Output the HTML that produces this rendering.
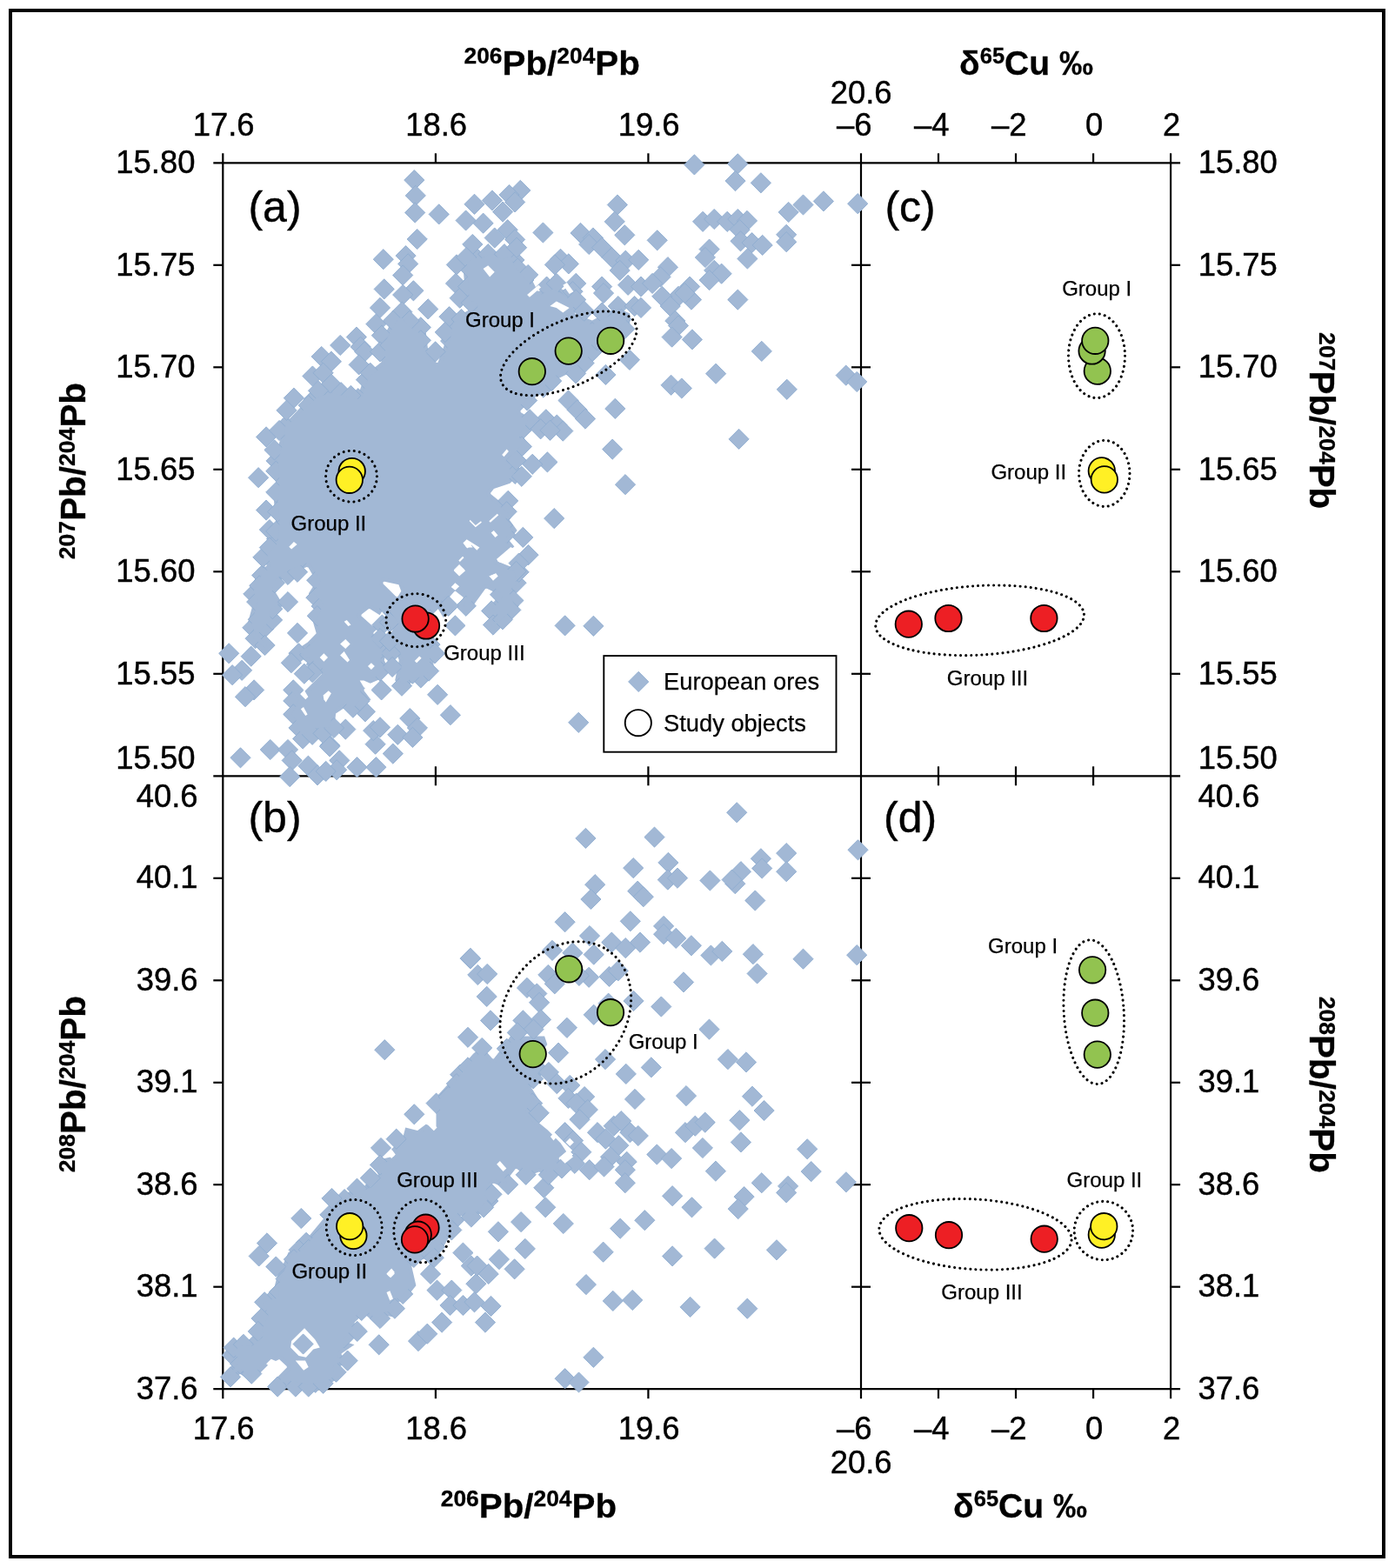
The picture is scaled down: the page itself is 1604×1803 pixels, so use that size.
<!DOCTYPE html>
<html lang="en">
<head>
<meta charset="utf-8">
<title>Pb and Cu isotope plots</title>
<style>
html,body{margin:0;padding:0;background:#fff;}
body{width:1604px;height:1803px;overflow:hidden;}
svg{display:block;font-family:"Liberation Sans",sans-serif;fill:#000;}
</style>
</head>
<body>
<svg width="1604" height="1803" viewBox="0 0 1604 1803">
<rect x="0" y="0" width="1604" height="1803" fill="#fff"/>
<rect x="12" y="12" width="1579" height="1778" fill="none" stroke="#000" stroke-width="4"/>
<g id="axes">
<line x1="245.3" y1="187.3" x2="1357.1" y2="187.3" stroke="#000" stroke-width="2.2"/>
<line x1="245.3" y1="892.3" x2="1357.1" y2="892.3" stroke="#000" stroke-width="2.2"/>
<line x1="245.3" y1="1597.2" x2="1357.1" y2="1597.2" stroke="#000" stroke-width="2.2"/>
<line x1="256.3" y1="176.3" x2="256.3" y2="1608.2" stroke="#000" stroke-width="2.2"/>
<line x1="990.0" y1="176.3" x2="990.0" y2="1608.2" stroke="#000" stroke-width="2.2"/>
<line x1="1346.1" y1="176.3" x2="1346.1" y2="1608.2" stroke="#000" stroke-width="2.2"/>
<line x1="500.9" y1="176.3" x2="500.9" y2="187.3" stroke="#000" stroke-width="2.2"/>
<line x1="500.9" y1="881.3" x2="500.9" y2="903.3" stroke="#000" stroke-width="2.2"/>
<line x1="500.9" y1="1597.2" x2="500.9" y2="1608.2" stroke="#000" stroke-width="2.2"/>
<line x1="745.4" y1="176.3" x2="745.4" y2="187.3" stroke="#000" stroke-width="2.2"/>
<line x1="745.4" y1="881.3" x2="745.4" y2="903.3" stroke="#000" stroke-width="2.2"/>
<line x1="745.4" y1="1597.2" x2="745.4" y2="1608.2" stroke="#000" stroke-width="2.2"/>
<line x1="1079.0" y1="176.3" x2="1079.0" y2="187.3" stroke="#000" stroke-width="2.2"/>
<line x1="1079.0" y1="881.3" x2="1079.0" y2="903.3" stroke="#000" stroke-width="2.2"/>
<line x1="1079.0" y1="1597.2" x2="1079.0" y2="1608.2" stroke="#000" stroke-width="2.2"/>
<line x1="1168.0" y1="176.3" x2="1168.0" y2="187.3" stroke="#000" stroke-width="2.2"/>
<line x1="1168.0" y1="881.3" x2="1168.0" y2="903.3" stroke="#000" stroke-width="2.2"/>
<line x1="1168.0" y1="1597.2" x2="1168.0" y2="1608.2" stroke="#000" stroke-width="2.2"/>
<line x1="1257.1" y1="176.3" x2="1257.1" y2="187.3" stroke="#000" stroke-width="2.2"/>
<line x1="1257.1" y1="881.3" x2="1257.1" y2="903.3" stroke="#000" stroke-width="2.2"/>
<line x1="1257.1" y1="1597.2" x2="1257.1" y2="1608.2" stroke="#000" stroke-width="2.2"/>
<line x1="245.3" y1="774.8" x2="256.3" y2="774.8" stroke="#000" stroke-width="2.2"/>
<line x1="979.0" y1="774.8" x2="1001.0" y2="774.8" stroke="#000" stroke-width="2.2"/>
<line x1="1346.1" y1="774.8" x2="1357.1" y2="774.8" stroke="#000" stroke-width="2.2"/>
<line x1="245.3" y1="1479.7" x2="256.3" y2="1479.7" stroke="#000" stroke-width="2.2"/>
<line x1="979.0" y1="1479.7" x2="1001.0" y2="1479.7" stroke="#000" stroke-width="2.2"/>
<line x1="1346.1" y1="1479.7" x2="1357.1" y2="1479.7" stroke="#000" stroke-width="2.2"/>
<line x1="245.3" y1="657.3" x2="256.3" y2="657.3" stroke="#000" stroke-width="2.2"/>
<line x1="979.0" y1="657.3" x2="1001.0" y2="657.3" stroke="#000" stroke-width="2.2"/>
<line x1="1346.1" y1="657.3" x2="1357.1" y2="657.3" stroke="#000" stroke-width="2.2"/>
<line x1="245.3" y1="1362.2" x2="256.3" y2="1362.2" stroke="#000" stroke-width="2.2"/>
<line x1="979.0" y1="1362.2" x2="1001.0" y2="1362.2" stroke="#000" stroke-width="2.2"/>
<line x1="1346.1" y1="1362.2" x2="1357.1" y2="1362.2" stroke="#000" stroke-width="2.2"/>
<line x1="245.3" y1="539.8" x2="256.3" y2="539.8" stroke="#000" stroke-width="2.2"/>
<line x1="979.0" y1="539.8" x2="1001.0" y2="539.8" stroke="#000" stroke-width="2.2"/>
<line x1="1346.1" y1="539.8" x2="1357.1" y2="539.8" stroke="#000" stroke-width="2.2"/>
<line x1="245.3" y1="1244.8" x2="256.3" y2="1244.8" stroke="#000" stroke-width="2.2"/>
<line x1="979.0" y1="1244.8" x2="1001.0" y2="1244.8" stroke="#000" stroke-width="2.2"/>
<line x1="1346.1" y1="1244.8" x2="1357.1" y2="1244.8" stroke="#000" stroke-width="2.2"/>
<line x1="245.3" y1="422.3" x2="256.3" y2="422.3" stroke="#000" stroke-width="2.2"/>
<line x1="979.0" y1="422.3" x2="1001.0" y2="422.3" stroke="#000" stroke-width="2.2"/>
<line x1="1346.1" y1="422.3" x2="1357.1" y2="422.3" stroke="#000" stroke-width="2.2"/>
<line x1="245.3" y1="1127.3" x2="256.3" y2="1127.3" stroke="#000" stroke-width="2.2"/>
<line x1="979.0" y1="1127.3" x2="1001.0" y2="1127.3" stroke="#000" stroke-width="2.2"/>
<line x1="1346.1" y1="1127.3" x2="1357.1" y2="1127.3" stroke="#000" stroke-width="2.2"/>
<line x1="245.3" y1="304.8" x2="256.3" y2="304.8" stroke="#000" stroke-width="2.2"/>
<line x1="979.0" y1="304.8" x2="1001.0" y2="304.8" stroke="#000" stroke-width="2.2"/>
<line x1="1346.1" y1="304.8" x2="1357.1" y2="304.8" stroke="#000" stroke-width="2.2"/>
<line x1="245.3" y1="1009.8" x2="256.3" y2="1009.8" stroke="#000" stroke-width="2.2"/>
<line x1="979.0" y1="1009.8" x2="1001.0" y2="1009.8" stroke="#000" stroke-width="2.2"/>
<line x1="1346.1" y1="1009.8" x2="1357.1" y2="1009.8" stroke="#000" stroke-width="2.2"/>
</g>
<g id="ores" fill="#a2b8d5">
<path fill-rule="evenodd" d="M352.6 651.9L354.4 652.4L363.7 668.5L354.8 682.5L366.8 694.9L359.1 712.5L363.7 728.2L353.8 738.4L336.8 749.8L347.4 757.8L356.9 762.6L369.4 773.6L369.9 775.0L350.3 794.8L348.8 794.5L337.4 784.5L328.4 793.5L338.8 805.7L329.7 821.4L338.7 833.4L338.3 835.0L335.0 837.3L348.4 850.7L361.8 841.8L384.2 840.3L386.1 820.4L396.4 813.7L407.1 819.5L419.0 806.2L426.6 804.8L418.6 794.2L418.6 792.6L425.3 785.9L436.2 781.2L447.6 771.2L441.8 759.3L444.7 747.1L432.7 735.1L429.3 728.2L429.7 726.9L437.7 720.1L428.5 719.9L415.4 708.2L415.7 706.6L423.7 700.2L425.2 700.1L436.6 707.2L439.9 702.1L441.8 701.8L454.0 718.1L454.0 719.2L448.0 731.1L458.8 759.0L454.2 782.2L462.3 795.6L473.7 784.3L487.9 782.6L498.5 774.0L498.5 696.8L499.2 695.5L500.3 695.3L501.2 695.9L509.7 710.1L516.8 704.2L511.1 694.3L511.1 693.0L522.3 680.2L523.8 679.7L532.6 686.8L532.5 688.1L526.9 696.6L535.8 705.5L545.6 694.3L558.1 677.1L559.9 676.7L569.5 681.5L572.7 686.2L572.2 687.4L559.8 699.9L568.1 708.2L568.5 709.4L558.3 718.7L567.1 727.4L592.3 703.6L596.5 696.6L590.5 680.9L600.8 671.6L597.7 667.4L595.8 656.9L596.4 655.9L603.7 651.5L586.9 651.5L572.6 645.8L571.8 644.4L572.3 643.2L591.4 628.6L586.0 621.9L585.8 620.7L594.7 610.1L585.8 597.7L591.4 590.1L564.5 568.3L564.0 567.1L567.9 562.1L586.5 555.8L597.6 544.7L586.2 533.3L585.8 531.8L597.1 521.8L605.8 510.2L601.4 500.6L613.2 482.8L598.9 474.2L598.4 472.4L611.9 458.8L623.9 451.9L639.0 436.8L650.6 431.0L661.3 431.0L668.6 421.3L679.6 414.7L685.5 394.0L713.8 380.7L724.3 371.9L724.3 360.5L709.0 353.7L680.9 368.5L661.5 360.9L660.8 359.0L666.0 348.7L650.1 334.6L636.0 327.5L619.7 334.8L618.1 334.4L612.3 323.0L595.5 304.2L589.4 287.0L578.2 293.7L564.9 286.4L549.7 293.7L548.5 292.5L548.5 287.8L532.1 300.4L535.7 350.6L543.8 350.6L544.8 351.3L545.0 352.5L544.3 353.4L531.3 360.9L516.9 368.0L513.3 389.9L503.5 416.8L502.2 417.1L501.3 416.5L491.8 399.4L489.9 382.9L473.5 371.9L461.3 358.0L451.3 367.9L438.5 391.7L438.4 416.4L419.6 431.5L411.9 454.2L410.5 454.5L381.0 447.1L363.0 452.5L348.3 465.4L333.2 481.2L324.3 481.5L322.5 504.6L315.1 528.8L317.0 554.8L315.1 577.3L317.0 599.7L315.1 622.4L302.2 637.4L306.7 650.6L305.6 651.5L300.8 651.5L288.8 674.0L286.0 681.0L292.0 690.5L284.3 718.4L288.9 728.1L284.8 733.9L304.5 750.8L313.3 742.0L301.8 730.4L301.6 728.9L316.9 713.5L314.0 704.9L314.3 703.7L325.9 696.3L317.1 681.5L320.4 669.6L330.3 661.1ZM457.7 685.8L456.6 686.5L455.4 686.1L440.5 671.2L440.6 669.2L442.0 668.8L458.4 672.3L461.3 679.8Z"/>
<path fill-rule="evenodd" d="M472.4 1452.3L472.7 1451.1L473.5 1450.5L492.5 1446.7L510.7 1432.1L521.7 1413.9L524.0 1404.9L529.0 1398.3L530.3 1398.0L544.5 1401.6L553.2 1394.6L567.1 1379.0L562.1 1373.4L566.4 1360.9L567.9 1360.7L582.2 1366.0L591.0 1361.7L584.9 1355.5L584.5 1354.5L592.8 1343.9L594.4 1344.0L605.0 1352.9L619.8 1347.5L631.0 1352.9L649.4 1344.6L642.5 1332.0L643.1 1331.0L651.4 1324.4L644.7 1314.4L629.9 1299.6L618.6 1290.2L608.9 1278.2L609.2 1276.9L619.7 1264.7L610.9 1250.6L610.8 1249.3L618.6 1241.4L628.9 1227.5L618.2 1216.4L629.3 1201.0L626.1 1191.5L586.8 1191.5L579.8 1202.1L567.7 1217.6L566.2 1217.2L554.1 1203.3L544.1 1211.7L531.1 1226.5L517.9 1243.4L501.5 1261.6L501.5 1294.5L501.0 1295.6L499.7 1296.0L489.7 1292.7L480.1 1300.0L466.2 1296.6L462.6 1310.5L450.1 1321.3L453.4 1327.9L453.1 1329.4L435.9 1333.5L429.5 1339.9L434.7 1350.3L434.4 1351.9L424.6 1361.5L400.5 1370.8L382.0 1389.3L344.6 1434.2L331.6 1439.9L326.2 1452.5L318.7 1467.3L315.1 1481.8L316.3 1488.8L315.2 1489.5L304.9 1491.2L296.8 1497.7L303.9 1512.1L296.5 1527.4L298.1 1535.4L288.1 1543.5L278.3 1541.9L259.8 1553.6L269.8 1563.5L270.2 1564.8L258.7 1580.5L256.0 1583.2L264.9 1590.6L275.1 1580.4L276.4 1579.9L289.1 1588.8L308.9 1569.0L321.1 1563.1L329.6 1571.0L330.0 1572.2L312.2 1590.6L319.5 1595.7L332.3 1592.1L352.9 1595.8L371.2 1594.0L380.2 1590.4L392.0 1582.8L387.0 1574.6L387.3 1573.0L400.8 1566.0L392.9 1558.1L392.5 1556.8L393.2 1555.9L407.5 1546.3L399.0 1543.5L398.1 1542.1L398.6 1541.1L412.5 1527.2L407.7 1522.4L407.8 1520.6L418.1 1510.7L419.3 1511.1L433.2 1523.3L443.8 1512.8L451.5 1514.3L459.2 1506.6L452.7 1500.1L452.7 1498.2L462.5 1495.9L471.4 1486.9L478.4 1478.2Z"/>
<g stroke="#8fadd0" stroke-width="0.9">
<path d="M494.5 729.5l11.6 11.6-11.6 11.6-11.6-11.6z"/><path d="M498.4 681.8l11.6 11.6-11.6 11.6-11.6-11.6z"/><path d="M575.1 672.2l11.6 11.6-11.6 11.6-11.6-11.6z"/><path d="M565.1 690.8l11.6 11.6-11.6 11.6-11.6-11.6z"/><path d="M592.2 533.3l11.6 11.6-11.6 11.6-11.6-11.6z"/><path d="M600.5 482.4l11.6 11.6-11.6 11.6-11.6-11.6z"/>
<path d="M662.9 409.7l11.6 11.6-11.6 11.6-11.6-11.6z"/><path d="M692.6 373.6l11.6 11.6-11.6 11.6-11.6-11.6z"/><path d="M705.0 367.4l11.6 11.6-11.6 11.6-11.6-11.6z"/><path d="M591.4 287.3l11.6 11.6-11.6 11.6-11.6-11.6z"/><path d="M548.1 285.2l11.6 11.6-11.6 11.6-11.6-11.6z"/><path d="M519.8 368.5l11.6 11.6-11.6 11.6-11.6-11.6z"/>
<path d="M518.1 380.5l11.6 11.6-11.6 11.6-11.6-11.6z"/><path d="M421.0 425.1l11.6 11.6-11.6 11.6-11.6-11.6z"/><path d="M411.8 446.6l11.6 11.6-11.6 11.6-11.6-11.6z"/><path d="M360.7 447.6l11.6 11.6-11.6 11.6-11.6-11.6z"/><path d="M328.1 478.5l11.6 11.6-11.6 11.6-11.6-11.6z"/><path d="M317.6 518.3l11.6 11.6-11.6 11.6-11.6-11.6z"/>
<path d="M318.0 608.0l11.6 11.6-11.6 11.6-11.6-11.6z"/><path d="M301.2 649.9l11.6 11.6-11.6 11.6-11.6-11.6z"/><path d="M291.3 671.4l11.6 11.6-11.6 11.6-11.6-11.6z"/><path d="M290.4 710.1l11.6 11.6-11.6 11.6-11.6-11.6z"/><path d="M303.3 711.3l11.6 11.6-11.6 11.6-11.6-11.6z"/><path d="M313.1 701.3l11.6 11.6-11.6 11.6-11.6-11.6z"/>
<path d="M313.3 688.6l11.6 11.6-11.6 11.6-11.6-11.6z"/><path d="M315.8 658.7l11.6 11.6-11.6 11.6-11.6-11.6z"/><path d="M364.2 655.6l11.6 11.6-11.6 11.6-11.6-11.6z"/><path d="M363.4 675.6l11.6 11.6-11.6 11.6-11.6-11.6z"/><path d="M369.6 685.5l11.6 11.6-11.6 11.6-11.6-11.6z"/><path d="M364.8 696.6l11.6 11.6-11.6 11.6-11.6-11.6z"/>
<path d="M362.7 1578.2l11.6 11.6-11.6 11.6-11.6-11.6z"/><path d="M395.6 1526.7l11.6 11.6-11.6 11.6-11.6-11.6z"/><path d="M415.7 1495.4l11.6 11.6-11.6 11.6-11.6-11.6z"/><path d="M475.8 1434.3l11.6 11.6-11.6 11.6-11.6-11.6z"/><path d="M500.2 1422.2l11.6 11.6-11.6 11.6-11.6-11.6z"/><path d="M522.2 1391.4l11.6 11.6-11.6 11.6-11.6-11.6z"/>
<path d="M561.3 1369.4l11.6 11.6-11.6 11.6-11.6-11.6z"/><path d="M613.2 1228.8l11.6 11.6-11.6 11.6-11.6-11.6z"/><path d="M582.8 1194.2l11.6 11.6-11.6 11.6-11.6-11.6z"/><path d="M529.2 1224.1l11.6 11.6-11.6 11.6-11.6-11.6z"/><path d="M432.0 1351.0l11.6 11.6-11.6 11.6-11.6-11.6z"/><path d="M396.1 1367.5l11.6 11.6-11.6 11.6-11.6-11.6z"/>
<path d="M379.4 1385.2l11.6 11.6-11.6 11.6-11.6-11.6z"/><path d="M352.1 1417.2l11.6 11.6-11.6 11.6-11.6-11.6z"/><path d="M343.7 1425.7l11.6 11.6-11.6 11.6-11.6-11.6z"/><path d="M315.4 1480.4l11.6 11.6-11.6 11.6-11.6-11.6z"/><path d="M298.0 1529.4l11.6 11.6-11.6 11.6-11.6-11.6z"/><path d="M267.0 1546.6l11.6 11.6-11.6 11.6-11.6-11.6z"/>
<path d="M476.3 195.5l11.6 11.6-11.6 11.6-11.6-11.6z"/><path d="M477.8 213.3l11.6 11.6-11.6 11.6-11.6-11.6z"/><path d="M477.2 232.9l11.6 11.6-11.6 11.6-11.6-11.6z"/><path d="M504.7 234.8l11.6 11.6-11.6 11.6-11.6-11.6z"/><path d="M545.5 223.2l11.6 11.6-11.6 11.6-11.6-11.6z"/><path d="M535.6 241.9l11.6 11.6-11.6 11.6-11.6-11.6z"/>
<path d="M479.7 263.4l11.6 11.6-11.6 11.6-11.6-11.6z"/><path d="M543.3 269.4l11.6 11.6-11.6 11.6-11.6-11.6z"/><path d="M440.8 286.6l11.6 11.6-11.6 11.6-11.6-11.6z"/><path d="M466.6 282.5l11.6 11.6-11.6 11.6-11.6-11.6z"/><path d="M469.2 291.8l11.6 11.6-11.6 11.6-11.6-11.6z"/><path d="M463.2 304.9l11.6 11.6-11.6 11.6-11.6-11.6z"/>
<path d="M441.7 320.8l11.6 11.6-11.6 11.6-11.6-11.6z"/><path d="M475.4 322.7l11.6 11.6-11.6 11.6-11.6-11.6z"/><path d="M463.2 327.4l11.6 11.6-11.6 11.6-11.6-11.6z"/><path d="M437.0 342.3l11.6 11.6-11.6 11.6-11.6-11.6z"/><path d="M492.2 343.8l11.6 11.6-11.6 11.6-11.6-11.6z"/><path d="M462.3 347.0l11.6 11.6-11.6 11.6-11.6-11.6z"/>
<path d="M524.9 292.8l11.6 11.6-11.6 11.6-11.6-11.6z"/><path d="M524.0 314.3l11.6 11.6-11.6 11.6-11.6-11.6z"/><path d="M528.7 331.1l11.6 11.6-11.6 11.6-11.6-11.6z"/><path d="M516.5 352.6l11.6 11.6-11.6 11.6-11.6-11.6z"/><path d="M483.8 364.8l11.6 11.6-11.6 11.6-11.6-11.6z"/><path d="M432.4 361.0l11.6 11.6-11.6 11.6-11.6-11.6z"/>
<path d="M409.9 376.0l11.6 11.6-11.6 11.6-11.6-11.6z"/><path d="M414.6 387.2l11.6 11.6-11.6 11.6-11.6-11.6z"/><path d="M419.3 392.8l11.6 11.6-11.6 11.6-11.6-11.6z"/><path d="M391.2 385.4l11.6 11.6-11.6 11.6-11.6-11.6z"/><path d="M369.7 398.4l11.6 11.6-11.6 11.6-11.6-11.6z"/><path d="M380.9 404.1l11.6 11.6-11.6 11.6-11.6-11.6z"/>
<path d="M412.7 407.8l11.6 11.6-11.6 11.6-11.6-11.6z"/><path d="M359.4 420.9l11.6 11.6-11.6 11.6-11.6-11.6z"/><path d="M371.6 417.2l11.6 11.6-11.6 11.6-11.6-11.6z"/><path d="M337.9 446.1l11.6 11.6-11.6 11.6-11.6-11.6z"/><path d="M329.5 460.2l11.6 11.6-11.6 11.6-11.6-11.6z"/><path d="M536.2 284.4l11.6 11.6-11.6 11.6-11.6-11.6z"/>
<path d="M541.8 299.3l11.6 11.6-11.6 11.6-11.6-11.6z"/><path d="M538.0 318.0l11.6 11.6-11.6 11.6-11.6-11.6z"/><path d="M541.8 336.7l11.6 11.6-11.6 11.6-11.6-11.6z"/><path d="M530.5 355.4l11.6 11.6-11.6 11.6-11.6-11.6z"/><path d="M538.0 366.7l11.6 11.6-11.6 11.6-11.6-11.6z"/><path d="M470.7 357.3l11.6 11.6-11.6 11.6-11.6-11.6z"/>
<path d="M452.0 357.3l11.6 11.6-11.6 11.6-11.6-11.6z"/><path d="M438.9 374.1l11.6 11.6-11.6 11.6-11.6-11.6z"/><path d="M483.8 379.7l11.6 11.6-11.6 11.6-11.6-11.6z"/><path d="M500.6 392.8l11.6 11.6-11.6 11.6-11.6-11.6z"/><path d="M511.8 370.4l11.6 11.6-11.6 11.6-11.6-11.6z"/><path d="M437.0 392.8l11.6 11.6-11.6 11.6-11.6-11.6z"/>
<path d="M448.3 385.4l11.6 11.6-11.6 11.6-11.6-11.6z"/><path d="M380.9 430.2l11.6 11.6-11.6 11.6-11.6-11.6z"/><path d="M366.0 437.7l11.6 11.6-11.6 11.6-11.6-11.6z"/><path d="M354.7 454.6l11.6 11.6-11.6 11.6-11.6-11.6z"/><path d="M392.1 439.6l11.6 11.6-11.6 11.6-11.6-11.6z"/><path d="M403.4 443.3l11.6 11.6-11.6 11.6-11.6-11.6z"/>
<path d="M425.8 417.2l11.6 11.6-11.6 11.6-11.6-11.6z"/><path d="M798.4 177.8l11.6 11.6-11.6 11.6-11.6-11.6z"/><path d="M848.3 176.8l11.6 11.6-11.6 11.6-11.6-11.6z"/><path d="M845.5 196.5l11.6 11.6-11.6 11.6-11.6-11.6z"/><path d="M598.3 207.3l11.6 11.6-11.6 11.6-11.6-11.6z"/><path d="M585.5 212.4l11.6 11.6-11.6 11.6-11.6-11.6z"/>
<path d="M565.9 218.9l11.6 11.6-11.6 11.6-11.6-11.6z"/><path d="M592.1 220.8l11.6 11.6-11.6 11.6-11.6-11.6z"/><path d="M578.1 232.0l11.6 11.6-11.6 11.6-11.6-11.6z"/><path d="M709.9 223.9l11.6 11.6-11.6 11.6-11.6-11.6z"/><path d="M706.7 243.2l11.6 11.6-11.6 11.6-11.6-11.6z"/><path d="M718.3 258.7l11.6 11.6-11.6 11.6-11.6-11.6z"/>
<path d="M555.6 245.1l11.6 11.6-11.6 11.6-11.6-11.6z"/><path d="M583.7 252.6l11.6 11.6-11.6 11.6-11.6-11.6z"/><path d="M592.1 263.8l11.6 11.6-11.6 11.6-11.6-11.6z"/><path d="M624.4 255.9l11.6 11.6-11.6 11.6-11.6-11.6z"/><path d="M808.1 243.2l11.6 11.6-11.6 11.6-11.6-11.6z"/><path d="M821.2 240.4l11.6 11.6-11.6 11.6-11.6-11.6z"/>
<path d="M836.2 243.2l11.6 11.6-11.6 11.6-11.6-11.6z"/><path d="M848.3 240.4l11.6 11.6-11.6 11.6-11.6-11.6z"/><path d="M667.5 256.3l11.6 11.6-11.6 11.6-11.6-11.6z"/><path d="M681.9 261.9l11.6 11.6-11.6 11.6-11.6-11.6z"/><path d="M677.2 269.4l11.6 11.6-11.6 11.6-11.6-11.6z"/><path d="M692.1 273.1l11.6 11.6-11.6 11.6-11.6-11.6z"/>
<path d="M755.7 264.7l11.6 11.6-11.6 11.6-11.6-11.6z"/><path d="M815.6 275.0l11.6 11.6-11.6 11.6-11.6-11.6z"/><path d="M810.9 284.4l11.6 11.6-11.6 11.6-11.6-11.6z"/><path d="M821.2 299.3l11.6 11.6-11.6 11.6-11.6-11.6z"/><path d="M829.6 303.1l11.6 11.6-11.6 11.6-11.6-11.6z"/><path d="M815.6 310.5l11.6 11.6-11.6 11.6-11.6-11.6z"/>
<path d="M644.5 286.2l11.6 11.6-11.6 11.6-11.6-11.6z"/><path d="M653.8 291.8l11.6 11.6-11.6 11.6-11.6-11.6z"/><path d="M637.9 292.8l11.6 11.6-11.6 11.6-11.6-11.6z"/><path d="M703.4 284.4l11.6 11.6-11.6 11.6-11.6-11.6z"/><path d="M719.3 288.1l11.6 11.6-11.6 11.6-11.6-11.6z"/><path d="M734.2 287.2l11.6 11.6-11.6 11.6-11.6-11.6z"/>
<path d="M712.7 299.3l11.6 11.6-11.6 11.6-11.6-11.6z"/><path d="M767.9 295.6l11.6 11.6-11.6 11.6-11.6-11.6z"/><path d="M759.5 306.8l11.6 11.6-11.6 11.6-11.6-11.6z"/><path d="M793.1 318.0l11.6 11.6-11.6 11.6-11.6-11.6z"/><path d="M780.0 329.2l11.6 11.6-11.6 11.6-11.6-11.6z"/><path d="M795.0 333.0l11.6 11.6-11.6 11.6-11.6-11.6z"/>
<path d="M787.5 325.5l11.6 11.6-11.6 11.6-11.6-11.6z"/><path d="M848.3 333.0l11.6 11.6-11.6 11.6-11.6-11.6z"/><path d="M662.2 314.3l11.6 11.6-11.6 11.6-11.6-11.6z"/><path d="M658.5 323.6l11.6 11.6-11.6 11.6-11.6-11.6z"/><path d="M692.1 318.0l11.6 11.6-11.6 11.6-11.6-11.6z"/><path d="M694.0 325.5l11.6 11.6-11.6 11.6-11.6-11.6z"/>
<path d="M722.1 316.2l11.6 11.6-11.6 11.6-11.6-11.6z"/><path d="M737.0 318.0l11.6 11.6-11.6 11.6-11.6-11.6z"/><path d="M750.1 314.3l11.6 11.6-11.6 11.6-11.6-11.6z"/><path d="M761.3 329.2l11.6 11.6-11.6 11.6-11.6-11.6z"/><path d="M770.7 340.5l11.6 11.6-11.6 11.6-11.6-11.6z"/><path d="M643.5 334.9l11.6 11.6-11.6 11.6-11.6-11.6z"/>
<path d="M662.2 333.0l11.6 11.6-11.6 11.6-11.6-11.6z"/><path d="M710.8 340.5l11.6 11.6-11.6 11.6-11.6-11.6z"/><path d="M729.6 340.5l11.6 11.6-11.6 11.6-11.6-11.6z"/><path d="M737.0 342.3l11.6 11.6-11.6 11.6-11.6-11.6z"/><path d="M776.3 357.3l11.6 11.6-11.6 11.6-11.6-11.6z"/><path d="M780.0 362.9l11.6 11.6-11.6 11.6-11.6-11.6z"/>
<path d="M772.6 376.0l11.6 11.6-11.6 11.6-11.6-11.6z"/><path d="M795.9 378.8l11.6 11.6-11.6 11.6-11.6-11.6z"/><path d="M723.9 402.2l11.6 11.6-11.6 11.6-11.6-11.6z"/><path d="M823.1 418.1l11.6 11.6-11.6 11.6-11.6-11.6z"/><path d="M771.6 431.2l11.6 11.6-11.6 11.6-11.6-11.6z"/><path d="M783.8 434.9l11.6 11.6-11.6 11.6-11.6-11.6z"/>
<path d="M568.7 261.9l11.6 11.6-11.6 11.6-11.6-11.6z"/><path d="M561.2 280.6l11.6 11.6-11.6 11.6-11.6-11.6z"/><path d="M579.9 280.6l11.6 11.6-11.6 11.6-11.6-11.6z"/><path d="M587.4 299.3l11.6 11.6-11.6 11.6-11.6-11.6z"/><path d="M602.4 310.5l11.6 11.6-11.6 11.6-11.6-11.6z"/><path d="M628.6 318.0l11.6 11.6-11.6 11.6-11.6-11.6z"/>
<path d="M639.8 314.3l11.6 11.6-11.6 11.6-11.6-11.6z"/><path d="M624.8 336.7l11.6 11.6-11.6 11.6-11.6-11.6z"/><path d="M671.6 346.1l11.6 11.6-11.6 11.6-11.6-11.6z"/><path d="M692.1 348.0l11.6 11.6-11.6 11.6-11.6-11.6z"/><path d="M714.6 355.4l11.6 11.6-11.6 11.6-11.6-11.6z"/><path d="M718.3 366.7l11.6 11.6-11.6 11.6-11.6-11.6z"/>
<path d="M680.9 370.4l11.6 11.6-11.6 11.6-11.6-11.6z"/><path d="M662.2 383.5l11.6 11.6-11.6 11.6-11.6-11.6z"/><path d="M680.9 392.8l11.6 11.6-11.6 11.6-11.6-11.6z"/><path d="M671.6 405.9l11.6 11.6-11.6 11.6-11.6-11.6z"/><path d="M594.1 273.1l11.6 11.6-11.6 11.6-11.6-11.6z"/><path d="M595.3 296.9l11.6 11.6-11.6 11.6-11.6-11.6z"/>
<path d="M607.2 304.4l11.6 11.6-11.6 11.6-11.6-11.6z"/><path d="M637.9 383.5l11.6 11.6-11.6 11.6-11.6-11.6z"/><path d="M628.6 381.6l11.6 11.6-11.6 11.6-11.6-11.6z"/><path d="M624.8 434.0l11.6 11.6-11.6 11.6-11.6-11.6z"/><path d="M606.1 448.9l11.6 11.6-11.6 11.6-11.6-11.6z"/><path d="M634.2 426.5l11.6 11.6-11.6 11.6-11.6-11.6z"/>
<path d="M686.5 379.7l11.6 11.6-11.6 11.6-11.6-11.6z"/><path d="M874.9 198.7l11.6 11.6-11.6 11.6-11.6-11.6z"/><path d="M923.5 223.9l11.6 11.6-11.6 11.6-11.6-11.6z"/><path d="M946.9 219.8l11.6 11.6-11.6 11.6-11.6-11.6z"/><path d="M906.7 232.4l11.6 11.6-11.6 11.6-11.6-11.6z"/><path d="M986.2 222.6l11.6 11.6-11.6 11.6-11.6-11.6z"/>
<path d="M859.0 242.3l11.6 11.6-11.6 11.6-11.6-11.6z"/><path d="M850.6 252.6l11.6 11.6-11.6 11.6-11.6-11.6z"/><path d="M851.5 265.7l11.6 11.6-11.6 11.6-11.6-11.6z"/><path d="M864.6 267.5l11.6 11.6-11.6 11.6-11.6-11.6z"/><path d="M876.7 270.3l11.6 11.6-11.6 11.6-11.6-11.6z"/><path d="M904.2 258.2l11.6 11.6-11.6 11.6-11.6-11.6z"/>
<path d="M904.2 266.6l11.6 11.6-11.6 11.6-11.6-11.6z"/><path d="M859.4 285.9l11.6 11.6-11.6 11.6-11.6-11.6z"/><path d="M875.8 392.3l11.6 11.6-11.6 11.6-11.6-11.6z"/><path d="M904.8 436.2l11.6 11.6-11.6 11.6-11.6-11.6z"/><path d="M972.7 420.0l11.6 11.6-11.6 11.6-11.6-11.6z"/><path d="M985.2 427.4l11.6 11.6-11.6 11.6-11.6-11.6z"/>
<path d="M306.1 490.8l11.6 11.6-11.6 11.6-11.6-11.6z"/><path d="M297.1 537.6l11.6 11.6-11.6 11.6-11.6-11.6z"/><path d="M306.1 575.0l11.6 11.6-11.6 11.6-11.6-11.6z"/><path d="M309.9 597.5l11.6 11.6-11.6 11.6-11.6-11.6z"/><path d="M302.4 629.2l11.6 11.6-11.6 11.6-11.6-11.6z"/><path d="M321.1 483.4l11.6 11.6-11.6 11.6-11.6-11.6z"/>
<path d="M315.5 505.8l11.6 11.6-11.6 11.6-11.6-11.6z"/><path d="M317.3 530.1l11.6 11.6-11.6 11.6-11.6-11.6z"/><path d="M317.3 554.4l11.6 11.6-11.6 11.6-11.6-11.6z"/><path d="M319.2 576.9l11.6 11.6-11.6 11.6-11.6-11.6z"/><path d="M317.3 599.3l11.6 11.6-11.6 11.6-11.6-11.6z"/><path d="M309.9 618.0l11.6 11.6-11.6 11.6-11.6-11.6z"/>
<path d="M324.8 636.7l11.6 11.6-11.6 11.6-11.6-11.6z"/><path d="M343.5 633.0l11.6 11.6-11.6 11.6-11.6-11.6z"/><path d="M541.8 625.5l11.6 11.6-11.6 11.6-11.6-11.6z"/><path d="M263.2 739.7l11.6 11.6-11.6 11.6-11.6-11.6z"/><path d="M288.7 743.1l11.6 11.6-11.6 11.6-11.6-11.6z"/><path d="M278.1 759.2l11.6 11.6-11.6 11.6-11.6-11.6z"/>
<path d="M267.1 764.6l11.6 11.6-11.6 11.6-11.6-11.6z"/><path d="M292.1 781.8l11.6 11.6-11.6 11.6-11.6-11.6z"/><path d="M282.0 789.6l11.6 11.6-11.6 11.6-11.6-11.6z"/><path d="M276.5 859.7l11.6 11.6-11.6 11.6-11.6-11.6z"/><path d="M298.3 661.8l11.6 11.6-11.6 11.6-11.6-11.6z"/><path d="M295.2 680.5l11.6 11.6-11.6 11.6-11.6-11.6z"/>
<path d="M296.8 700.7l11.6 11.6-11.6 11.6-11.6-11.6z"/><path d="M293.6 722.6l11.6 11.6-11.6 11.6-11.6-11.6z"/><path d="M304.6 730.4l11.6 11.6-11.6 11.6-11.6-11.6z"/><path d="M331.0 649.3l11.6 11.6-11.6 11.6-11.6-11.6z"/><path d="M342.0 646.2l11.6 11.6-11.6 11.6-11.6-11.6z"/><path d="M331.0 680.5l11.6 11.6-11.6 11.6-11.6-11.6z"/>
<path d="M342.0 716.3l11.6 11.6-11.6 11.6-11.6-11.6z"/><path d="M343.5 739.7l11.6 11.6-11.6 11.6-11.6-11.6z"/><path d="M334.9 750.6l11.6 11.6-11.6 11.6-11.6-11.6z"/><path d="M363.8 752.2l11.6 11.6-11.6 11.6-11.6-11.6z"/><path d="M310.8 850.4l11.6 11.6-11.6 11.6-11.6-11.6z"/><path d="M331.0 850.4l11.6 11.6-11.6 11.6-11.6-11.6z"/>
<path d="M335.7 862.8l11.6 11.6-11.6 11.6-11.6-11.6z"/><path d="M333.2 881.5l11.6 11.6-11.6 11.6-11.6-11.6z"/><path d="M354.4 869.1l11.6 11.6-11.6 11.6-11.6-11.6z"/><path d="M365.0 879.7l11.6 11.6-11.6 11.6-11.6-11.6z"/><path d="M379.4 845.7l11.6 11.6-11.6 11.6-11.6-11.6z"/><path d="M390.3 862.8l11.6 11.6-11.6 11.6-11.6-11.6z"/>
<path d="M387.2 873.7l11.6 11.6-11.6 11.6-11.6-11.6z"/><path d="M410.5 870.6l11.6 11.6-11.6 11.6-11.6-11.6z"/><path d="M432.4 870.6l11.6 11.6-11.6 11.6-11.6-11.6z"/><path d="M451.8 855.0l11.6 11.6-11.6 11.6-11.6-11.6z"/><path d="M431.6 844.1l11.6 11.6-11.6 11.6-11.6-11.6z"/><path d="M429.2 828.5l11.6 11.6-11.6 11.6-11.6-11.6z"/>
<path d="M437.0 824.7l11.6 11.6-11.6 11.6-11.6-11.6z"/><path d="M457.3 833.2l11.6 11.6-11.6 11.6-11.6-11.6z"/><path d="M471.3 814.5l11.6 11.6-11.6 11.6-11.6-11.6z"/><path d="M479.9 825.4l11.6 11.6-11.6 11.6-11.6-11.6z"/><path d="M474.4 836.3l11.6 11.6-11.6 11.6-11.6-11.6z"/><path d="M397.3 827.0l11.6 11.6-11.6 11.6-11.6-11.6z"/>
<path d="M419.9 806.7l11.6 11.6-11.6 11.6-11.6-11.6z"/><path d="M438.6 781.8l11.6 11.6-11.6 11.6-11.6-11.6z"/><path d="M462.0 777.1l11.6 11.6-11.6 11.6-11.6-11.6z"/><path d="M439.4 707.0l11.6 11.6-11.6 11.6-11.6-11.6z"/><path d="M452.6 693.0l11.6 11.6-11.6 11.6-11.6-11.6z"/><path d="M337.3 781.8l11.6 11.6-11.6 11.6-11.6-11.6z"/>
<path d="M337.3 794.3l11.6 11.6-11.6 11.6-11.6-11.6z"/><path d="M337.3 809.8l11.6 11.6-11.6 11.6-11.6-11.6z"/><path d="M343.5 825.4l11.6 11.6-11.6 11.6-11.6-11.6z"/><path d="M348.2 837.9l11.6 11.6-11.6 11.6-11.6-11.6z"/><path d="M359.1 833.2l11.6 11.6-11.6 11.6-11.6-11.6z"/><path d="M371.6 831.7l11.6 11.6-11.6 11.6-11.6-11.6z"/>
<path d="M384.0 825.4l11.6 11.6-11.6 11.6-11.6-11.6z"/><path d="M405.9 802.1l11.6 11.6-11.6 11.6-11.6-11.6z"/><path d="M413.7 794.3l11.6 11.6-11.6 11.6-11.6-11.6z"/><path d="M437.0 760.0l11.6 11.6-11.6 11.6-11.6-11.6z"/><path d="M437.0 735.0l11.6 11.6-11.6 11.6-11.6-11.6z"/><path d="M437.0 722.6l11.6 11.6-11.6 11.6-11.6-11.6z"/>
<path d="M483.8 767.8l11.6 11.6-11.6 11.6-11.6-11.6z"/><path d="M474.4 763.1l11.6 11.6-11.6 11.6-11.6-11.6z"/><path d="M493.1 760.0l11.6 11.6-11.6 11.6-11.6-11.6z"/><path d="M356.0 741.3l11.6 11.6-11.6 11.6-11.6-11.6z"/><path d="M359.1 761.5l11.6 11.6-11.6 11.6-11.6-11.6z"/><path d="M349.8 763.1l11.6 11.6-11.6 11.6-11.6-11.6z"/>
<path d="M449.5 739.7l11.6 11.6-11.6 11.6-11.6-11.6z"/><path d="M451.1 755.3l11.6 11.6-11.6 11.6-11.6-11.6z"/><path d="M447.9 725.7l11.6 11.6-11.6 11.6-11.6-11.6z"/><path d="M379.1 846.9l11.6 11.6-11.6 11.6-11.6-11.6z"/><path d="M374.7 875.3l11.6 11.6-11.6 11.6-11.6-11.6z"/><path d="M444.8 685.2l11.6 11.6-11.6 11.6-11.6-11.6z"/>
<path d="M447.9 703.9l11.6 11.6-11.6 11.6-11.6-11.6z"/><path d="M523.4 707.8l11.6 11.6-11.6 11.6-11.6-11.6z"/><path d="M649.6 707.8l11.6 11.6-11.6 11.6-11.6-11.6z"/><path d="M682.4 708.2l11.6 11.6-11.6 11.6-11.6-11.6z"/><path d="M665.2 819.2l11.6 11.6-11.6 11.6-11.6-11.6z"/><path d="M517.9 810.6l11.6 11.6-11.6 11.6-11.6-11.6z"/>
<path d="M503.1 787.2l11.6 11.6-11.6 11.6-11.6-11.6z"/><path d="M500.0 739.7l11.6 11.6-11.6 11.6-11.6-11.6z"/><path d="M567.0 707.0l11.6 11.6-11.6 11.6-11.6-11.6z"/><path d="M535.8 685.2l11.6 11.6-11.6 11.6-11.6-11.6z"/><path d="M515.6 685.2l11.6 11.6-11.6 11.6-11.6-11.6z"/><path d="M593.5 658.7l11.6 11.6-11.6 11.6-11.6-11.6z"/>
<path d="M590.4 678.9l11.6 11.6-11.6 11.6-11.6-11.6z"/><path d="M587.3 689.8l11.6 11.6-11.6 11.6-11.6-11.6z"/><path d="M577.9 700.7l11.6 11.6-11.6 11.6-11.6-11.6z"/><path d="M596.6 646.2l11.6 11.6-11.6 11.6-11.6-11.6z"/><path d="M696.4 419.3l11.6 11.6-11.6 11.6-11.6-11.6z"/><path d="M653.5 448.9l11.6 11.6-11.6 11.6-11.6-11.6z"/>
<path d="M663.7 459.8l11.6 11.6-11.6 11.6-11.6-11.6z"/><path d="M673.0 470.0l11.6 11.6-11.6 11.6-11.6-11.6z"/><path d="M707.3 458.3l11.6 11.6-11.6 11.6-11.6-11.6z"/><path d="M627.8 470.7l11.6 11.6-11.6 11.6-11.6-11.6z"/><path d="M640.3 477.0l11.6 11.6-11.6 11.6-11.6-11.6z"/><path d="M621.6 481.7l11.6 11.6-11.6 11.6-11.6-11.6z"/>
<path d="M647.3 484.0l11.6 11.6-11.6 11.6-11.6-11.6z"/><path d="M632.5 483.2l11.6 11.6-11.6 11.6-11.6-11.6z"/><path d="M704.2 505.0l11.6 11.6-11.6 11.6-11.6-11.6z"/><path d="M629.4 519.8l11.6 11.6-11.6 11.6-11.6-11.6z"/><path d="M612.2 522.2l11.6 11.6-11.6 11.6-11.6-11.6z"/><path d="M599.8 536.2l11.6 11.6-11.6 11.6-11.6-11.6z"/>
<path d="M719.0 545.6l11.6 11.6-11.6 11.6-11.6-11.6z"/><path d="M637.2 584.5l11.6 11.6-11.6 11.6-11.6-11.6z"/><path d="M601.3 606.3l11.6 11.6-11.6 11.6-11.6-11.6z"/><path d="M607.5 626.6l11.6 11.6-11.6 11.6-11.6-11.6z"/><path d="M596.6 636.0l11.6 11.6-11.6 11.6-11.6-11.6z"/><path d="M584.2 564.3l11.6 11.6-11.6 11.6-11.6-11.6z"/>
<path d="M582.6 576.7l11.6 11.6-11.6 11.6-11.6-11.6z"/><path d="M577.9 592.3l11.6 11.6-11.6 11.6-11.6-11.6z"/><path d="M662.1 417.8l11.6 11.6-11.6 11.6-11.6-11.6z"/><path d="M609.1 470.7l11.6 11.6-11.6 11.6-11.6-11.6z"/><path d="M599.8 501.9l11.6 11.6-11.6 11.6-11.6-11.6z"/><path d="M593.5 517.5l11.6 11.6-11.6 11.6-11.6-11.6z"/>
<path d="M581.0 603.2l11.6 11.6-11.6 11.6-11.6-11.6z"/><path d="M587.3 651.5l11.6 11.6-11.6 11.6-11.6-11.6z"/><path d="M593.5 645.3l11.6 11.6-11.6 11.6-11.6-11.6z"/><path d="M849.6 493.3l11.6 11.6-11.6 11.6-11.6-11.6z"/><path d="M540.8 1090.7l11.6 11.6-11.6 11.6-11.6-11.6z"/><path d="M549.3 1109.4l11.6 11.6-11.6 11.6-11.6-11.6z"/>
<path d="M673.4 952.3l11.6 11.6-11.6 11.6-11.6-11.6z"/><path d="M752.5 951.0l11.6 11.6-11.6 11.6-11.6-11.6z"/><path d="M728.2 986.5l11.6 11.6-11.6 11.6-11.6-11.6z"/><path d="M768.4 980.3l11.6 11.6-11.6 11.6-11.6-11.6z"/><path d="M767.8 1000.0l11.6 11.6-11.6 11.6-11.6-11.6z"/><path d="M779.0 998.1l11.6 11.6-11.6 11.6-11.6-11.6z"/>
<path d="M816.4 1000.9l11.6 11.6-11.6 11.6-11.6-11.6z"/><path d="M684.2 1005.6l11.6 11.6-11.6 11.6-11.6-11.6z"/><path d="M679.4 1022.4l11.6 11.6-11.6 11.6-11.6-11.6z"/><path d="M733.2 1013.1l11.6 11.6-11.6 11.6-11.6-11.6z"/><path d="M739.8 1019.6l11.6 11.6-11.6 11.6-11.6-11.6z"/><path d="M649.6 1048.6l11.6 11.6-11.6 11.6-11.6-11.6z"/>
<path d="M724.8 1047.7l11.6 11.6-11.6 11.6-11.6-11.6z"/><path d="M763.1 1053.3l11.6 11.6-11.6 11.6-11.6-11.6z"/><path d="M763.1 1062.6l11.6 11.6-11.6 11.6-11.6-11.6z"/><path d="M777.2 1067.3l11.6 11.6-11.6 11.6-11.6-11.6z"/><path d="M678.0 1064.5l11.6 11.6-11.6 11.6-11.6-11.6z"/><path d="M703.3 1072.0l11.6 11.6-11.6 11.6-11.6-11.6z"/>
<path d="M719.2 1078.5l11.6 11.6-11.6 11.6-11.6-11.6z"/><path d="M736.0 1072.0l11.6 11.6-11.6 11.6-11.6-11.6z"/><path d="M794.9 1075.7l11.6 11.6-11.6 11.6-11.6-11.6z"/><path d="M817.4 1086.9l11.6 11.6-11.6 11.6-11.6-11.6z"/><path d="M540.9 1090.3l11.6 11.6-11.6 11.6-11.6-11.6z"/><path d="M635.0 1081.3l11.6 11.6-11.6 11.6-11.6-11.6z"/>
<path d="M658.4 1084.1l11.6 11.6-11.6 11.6-11.6-11.6z"/><path d="M682.7 1086.0l11.6 11.6-11.6 11.6-11.6-11.6z"/><path d="M560.2 1108.4l11.6 11.6-11.6 11.6-11.6-11.6z"/><path d="M630.3 1109.4l11.6 11.6-11.6 11.6-11.6-11.6z"/><path d="M677.1 1112.2l11.6 11.6-11.6 11.6-11.6-11.6z"/><path d="M700.5 1111.3l11.6 11.6-11.6 11.6-11.6-11.6z"/>
<path d="M710.8 1104.7l11.6 11.6-11.6 11.6-11.6-11.6z"/><path d="M786.0 1117.8l11.6 11.6-11.6 11.6-11.6-11.6z"/><path d="M665.9 1110.3l11.6 11.6-11.6 11.6-11.6-11.6z"/><path d="M637.8 1119.7l11.6 11.6-11.6 11.6-11.6-11.6z"/><path d="M606.0 1124.3l11.6 11.6-11.6 11.6-11.6-11.6z"/><path d="M617.3 1130.9l11.6 11.6-11.6 11.6-11.6-11.6z"/>
<path d="M620.1 1141.2l11.6 11.6-11.6 11.6-11.6-11.6z"/><path d="M559.7 1134.3l11.6 11.6-11.6 11.6-11.6-11.6z"/><path d="M728.5 1139.3l11.6 11.6-11.6 11.6-11.6-11.6z"/><path d="M760.3 1145.9l11.6 11.6-11.6 11.6-11.6-11.6z"/><path d="M699.6 1142.1l11.6 11.6-11.6 11.6-11.6-11.6z"/><path d="M564.0 1161.8l11.6 11.6-11.6 11.6-11.6-11.6z"/>
<path d="M601.4 1161.8l11.6 11.6-11.6 11.6-11.6-11.6z"/><path d="M621.9 1160.8l11.6 11.6-11.6 11.6-11.6-11.6z"/><path d="M682.7 1155.2l11.6 11.6-11.6 11.6-11.6-11.6z"/><path d="M651.9 1170.2l11.6 11.6-11.6 11.6-11.6-11.6z"/><path d="M815.5 1172.0l11.6 11.6-11.6 11.6-11.6-11.6z"/><path d="M613.5 1172.0l11.6 11.6-11.6 11.6-11.6-11.6z"/>
<path d="M594.8 1175.8l11.6 11.6-11.6 11.6-11.6-11.6z"/><path d="M847.2 922.7l11.6 11.6-11.6 11.6-11.6-11.6z"/><path d="M874.9 975.7l11.6 11.6-11.6 11.6-11.6-11.6z"/><path d="M876.2 986.9l11.6 11.6-11.6 11.6-11.6-11.6z"/><path d="M904.2 969.5l11.6 11.6-11.6 11.6-11.6-11.6z"/><path d="M904.2 990.6l11.6 11.6-11.6 11.6-11.6-11.6z"/>
<path d="M986.5 965.7l11.6 11.6-11.6 11.6-11.6-11.6z"/><path d="M851.9 990.6l11.6 11.6-11.6 11.6-11.6-11.6z"/><path d="M845.3 1004.6l11.6 11.6-11.6 11.6-11.6-11.6z"/><path d="M841.6 1000.0l11.6 11.6-11.6 11.6-11.6-11.6z"/><path d="M868.3 1023.9l11.6 11.6-11.6 11.6-11.6-11.6z"/><path d="M830.3 1082.3l11.6 11.6-11.6 11.6-11.6-11.6z"/>
<path d="M865.9 1085.6l11.6 11.6-11.6 11.6-11.6-11.6z"/><path d="M923.5 1091.1l11.6 11.6-11.6 11.6-11.6-11.6z"/><path d="M985.2 1086.6l11.6 11.6-11.6 11.6-11.6-11.6z"/><path d="M870.6 1107.9l11.6 11.6-11.6 11.6-11.6-11.6z"/><path d="M442.3 1195.6l11.6 11.6-11.6 11.6-11.6-11.6z"/><path d="M538.0 1181.2l11.6 11.6-11.6 11.6-11.6-11.6z"/>
<path d="M346.3 1389.4l11.6 11.6-11.6 11.6-11.6-11.6z"/><path d="M307.0 1417.8l11.6 11.6-11.6 11.6-11.6-11.6z"/><path d="M297.7 1432.8l11.6 11.6-11.6 11.6-11.6-11.6z"/><path d="M317.3 1444.9l11.6 11.6-11.6 11.6-11.6-11.6z"/><path d="M381.5 1366.4l11.6 11.6-11.6 11.6-11.6-11.6z"/><path d="M410.5 1355.1l11.6 11.6-11.6 11.6-11.6-11.6z"/>
<path d="M438.0 1308.4l11.6 11.6-11.6 11.6-11.6-11.6z"/><path d="M476.3 1269.7l11.6 11.6-11.6 11.6-11.6-11.6z"/><path d="M501.6 1257.0l11.6 11.6-11.6 11.6-11.6-11.6z"/><path d="M524.9 1234.5l11.6 11.6-11.6 11.6-11.6-11.6z"/><path d="M538.0 1215.8l11.6 11.6-11.6 11.6-11.6-11.6z"/><path d="M337.9 1436.5l11.6 11.6-11.6 11.6-11.6-11.6z"/>
<path d="M541.8 1387.9l11.6 11.6-11.6 11.6-11.6-11.6z"/><path d="M532.4 1429.0l11.6 11.6-11.6 11.6-11.6-11.6z"/><path d="M498.8 1434.6l11.6 11.6-11.6 11.6-11.6-11.6z"/><path d="M495.0 1453.3l11.6 11.6-11.6 11.6-11.6-11.6z"/><path d="M502.5 1472.0l11.6 11.6-11.6 11.6-11.6-11.6z"/><path d="M519.3 1472.0l11.6 11.6-11.6 11.6-11.6-11.6z"/>
<path d="M541.8 1444.0l11.6 11.6-11.6 11.6-11.6-11.6z"/><path d="M547.4 1464.6l11.6 11.6-11.6 11.6-11.6-11.6z"/><path d="M519.3 1402.8l11.6 11.6-11.6 11.6-11.6-11.6z"/><path d="M437.0 1328.0l11.6 11.6-11.6 11.6-11.6-11.6z"/><path d="M425.8 1343.0l11.6 11.6-11.6 11.6-11.6-11.6z"/><path d="M369.7 1410.3l11.6 11.6-11.6 11.6-11.6-11.6z"/>
<path d="M354.7 1425.3l11.6 11.6-11.6 11.6-11.6-11.6z"/><path d="M455.7 1298.1l11.6 11.6-11.6 11.6-11.6-11.6z"/><path d="M515.6 1249.5l11.6 11.6-11.6 11.6-11.6-11.6z"/><path d="M328.6 1458.9l11.6 11.6-11.6 11.6-11.6-11.6z"/><path d="M321.1 1473.9l11.6 11.6-11.6 11.6-11.6-11.6z"/><path d="M642.1 1199.0l11.6 11.6-11.6 11.6-11.6-11.6z"/>
<path d="M696.0 1206.5l11.6 11.6-11.6 11.6-11.6-11.6z"/><path d="M719.8 1223.3l11.6 11.6-11.6 11.6-11.6-11.6z"/><path d="M748.8 1215.8l11.6 11.6-11.6 11.6-11.6-11.6z"/><path d="M630.9 1221.4l11.6 11.6-11.6 11.6-11.6-11.6z"/><path d="M640.3 1234.5l11.6 11.6-11.6 11.6-11.6-11.6z"/><path d="M655.2 1236.4l11.6 11.6-11.6 11.6-11.6-11.6z"/>
<path d="M653.4 1251.3l11.6 11.6-11.6 11.6-11.6-11.6z"/><path d="M672.1 1249.5l11.6 11.6-11.6 11.6-11.6-11.6z"/><path d="M662.7 1257.0l11.6 11.6-11.6 11.6-11.6-11.6z"/><path d="M675.8 1264.4l11.6 11.6-11.6 11.6-11.6-11.6z"/><path d="M666.5 1275.7l11.6 11.6-11.6 11.6-11.6-11.6z"/><path d="M730.0 1252.3l11.6 11.6-11.6 11.6-11.6-11.6z"/>
<path d="M789.0 1248.5l11.6 11.6-11.6 11.6-11.6-11.6z"/><path d="M649.6 1290.6l11.6 11.6-11.6 11.6-11.6-11.6z"/><path d="M659.0 1300.0l11.6 11.6-11.6 11.6-11.6-11.6z"/><path d="M668.3 1313.1l11.6 11.6-11.6 11.6-11.6-11.6z"/><path d="M660.8 1326.2l11.6 11.6-11.6 11.6-11.6-11.6z"/><path d="M677.7 1333.6l11.6 11.6-11.6 11.6-11.6-11.6z"/>
<path d="M687.0 1290.6l11.6 11.6-11.6 11.6-11.6-11.6z"/><path d="M696.4 1298.1l11.6 11.6-11.6 11.6-11.6-11.6z"/><path d="M705.7 1283.1l11.6 11.6-11.6 11.6-11.6-11.6z"/><path d="M714.2 1277.5l11.6 11.6-11.6 11.6-11.6-11.6z"/><path d="M724.4 1290.6l11.6 11.6-11.6 11.6-11.6-11.6z"/><path d="M733.8 1294.4l11.6 11.6-11.6 11.6-11.6-11.6z"/>
<path d="M711.3 1305.6l11.6 11.6-11.6 11.6-11.6-11.6z"/><path d="M702.0 1318.7l11.6 11.6-11.6 11.6-11.6-11.6z"/><path d="M694.5 1329.9l11.6 11.6-11.6 11.6-11.6-11.6z"/><path d="M720.7 1324.3l11.6 11.6-11.6 11.6-11.6-11.6z"/><path d="M718.8 1333.6l11.6 11.6-11.6 11.6-11.6-11.6z"/><path d="M718.8 1348.6l11.6 11.6-11.6 11.6-11.6-11.6z"/>
<path d="M755.3 1315.9l11.6 11.6-11.6 11.6-11.6-11.6z"/><path d="M772.1 1320.5l11.6 11.6-11.6 11.6-11.6-11.6z"/><path d="M788.0 1290.6l11.6 11.6-11.6 11.6-11.6-11.6z"/><path d="M799.3 1283.1l11.6 11.6-11.6 11.6-11.6-11.6z"/><path d="M773.1 1363.6l11.6 11.6-11.6 11.6-11.6-11.6z"/><path d="M795.5 1376.7l11.6 11.6-11.6 11.6-11.6-11.6z"/>
<path d="M625.3 1354.2l11.6 11.6-11.6 11.6-11.6-11.6z"/><path d="M627.2 1376.7l11.6 11.6-11.6 11.6-11.6-11.6z"/><path d="M599.1 1393.5l11.6 11.6-11.6 11.6-11.6-11.6z"/><path d="M647.8 1395.4l11.6 11.6-11.6 11.6-11.6-11.6z"/><path d="M572.9 1404.7l11.6 11.6-11.6 11.6-11.6-11.6z"/><path d="M713.2 1401.0l11.6 11.6-11.6 11.6-11.6-11.6z"/>
<path d="M741.3 1391.6l11.6 11.6-11.6 11.6-11.6-11.6z"/><path d="M603.8 1424.3l11.6 11.6-11.6 11.6-11.6-11.6z"/><path d="M693.6 1428.1l11.6 11.6-11.6 11.6-11.6-11.6z"/><path d="M773.1 1432.8l11.6 11.6-11.6 11.6-11.6-11.6z"/><path d="M573.9 1436.5l11.6 11.6-11.6 11.6-11.6-11.6z"/><path d="M591.6 1447.7l11.6 11.6-11.6 11.6-11.6-11.6z"/>
<path d="M548.6 1444.0l11.6 11.6-11.6 11.6-11.6-11.6z"/><path d="M561.7 1453.3l11.6 11.6-11.6 11.6-11.6-11.6z"/><path d="M673.9 1465.5l11.6 11.6-11.6 11.6-11.6-11.6z"/><path d="M554.2 1193.4l11.6 11.6-11.6 11.6-11.6-11.6z"/><path d="M612.2 1257.0l11.6 11.6-11.6 11.6-11.6-11.6z"/><path d="M619.7 1268.2l11.6 11.6-11.6 11.6-11.6-11.6z"/>
<path d="M556.1 1376.7l11.6 11.6-11.6 11.6-11.6-11.6z"/><path d="M565.5 1361.7l11.6 11.6-11.6 11.6-11.6-11.6z"/><path d="M584.2 1350.5l11.6 11.6-11.6 11.6-11.6-11.6z"/><path d="M604.7 1339.2l11.6 11.6-11.6 11.6-11.6-11.6z"/><path d="M630.9 1339.2l11.6 11.6-11.6 11.6-11.6-11.6z"/><path d="M645.9 1331.8l11.6 11.6-11.6 11.6-11.6-11.6z"/>
<path d="M836.9 1206.5l11.6 11.6-11.6 11.6-11.6-11.6z"/><path d="M858.0 1209.8l11.6 11.6-11.6 11.6-11.6-11.6z"/><path d="M865.0 1249.1l11.6 11.6-11.6 11.6-11.6-11.6z"/><path d="M878.6 1265.4l11.6 11.6-11.6 11.6-11.6-11.6z"/><path d="M850.4 1276.6l11.6 11.6-11.6 11.6-11.6-11.6z"/><path d="M810.7 1279.0l11.6 11.6-11.6 11.6-11.6-11.6z"/>
<path d="M807.9 1308.4l11.6 11.6-11.6 11.6-11.6-11.6z"/><path d="M851.9 1301.8l11.6 11.6-11.6 11.6-11.6-11.6z"/><path d="M928.2 1309.7l11.6 11.6-11.6 11.6-11.6-11.6z"/><path d="M822.9 1335.1l11.6 11.6-11.6 11.6-11.6-11.6z"/><path d="M932.7 1335.5l11.6 11.6-11.6 11.6-11.6-11.6z"/><path d="M875.8 1348.6l11.6 11.6-11.6 11.6-11.6-11.6z"/>
<path d="M906.1 1352.3l11.6 11.6-11.6 11.6-11.6-11.6z"/><path d="M904.2 1359.8l11.6 11.6-11.6 11.6-11.6-11.6z"/><path d="M972.9 1347.7l11.6 11.6-11.6 11.6-11.6-11.6z"/><path d="M855.6 1364.5l11.6 11.6-11.6 11.6-11.6-11.6z"/><path d="M848.7 1378.5l11.6 11.6-11.6 11.6-11.6-11.6z"/><path d="M821.6 1424.0l11.6 11.6-11.6 11.6-11.6-11.6z"/>
<path d="M893.0 1425.7l11.6 11.6-11.6 11.6-11.6-11.6z"/><path d="M348.6 1533.9l11.6 11.6-11.6 11.6-11.6-11.6z"/><path d="M435.7 1534.7l11.6 11.6-11.6 11.6-11.6-11.6z"/><path d="M481.0 1530.5l11.6 11.6-11.6 11.6-11.6-11.6z"/><path d="M491.3 1522.1l11.6 11.6-11.6 11.6-11.6-11.6z"/><path d="M508.1 1509.0l11.6 11.6-11.6 11.6-11.6-11.6z"/>
<path d="M517.5 1489.4l11.6 11.6-11.6 11.6-11.6-11.6z"/><path d="M532.4 1489.4l11.6 11.6-11.6 11.6-11.6-11.6z"/><path d="M545.5 1485.7l11.6 11.6-11.6 11.6-11.6-11.6z"/><path d="M268.7 1538.0l11.6 11.6-11.6 11.6-11.6-11.6z"/><path d="M265.0 1571.7l11.6 11.6-11.6 11.6-11.6-11.6z"/><path d="M289.3 1568.0l11.6 11.6-11.6 11.6-11.6-11.6z"/>
<path d="M319.2 1582.9l11.6 11.6-11.6 11.6-11.6-11.6z"/><path d="M339.8 1582.9l11.6 11.6-11.6 11.6-11.6-11.6z"/><path d="M354.7 1582.9l11.6 11.6-11.6 11.6-11.6-11.6z"/><path d="M371.6 1579.2l11.6 11.6-11.6 11.6-11.6-11.6z"/><path d="M279.9 1534.3l11.6 11.6-11.6 11.6-11.6-11.6z"/><path d="M453.9 1493.1l11.6 11.6-11.6 11.6-11.6-11.6z"/>
<path d="M437.0 1504.4l11.6 11.6-11.6 11.6-11.6-11.6z"/><path d="M386.5 1566.1l11.6 11.6-11.6 11.6-11.6-11.6z"/><path d="M399.6 1553.0l11.6 11.6-11.6 11.6-11.6-11.6z"/><path d="M410.8 1519.3l11.6 11.6-11.6 11.6-11.6-11.6z"/><path d="M304.2 1485.7l11.6 11.6-11.6 11.6-11.6-11.6z"/><path d="M300.5 1504.4l11.6 11.6-11.6 11.6-11.6-11.6z"/>
<path d="M296.8 1519.3l11.6 11.6-11.6 11.6-11.6-11.6z"/><path d="M276.2 1556.7l11.6 11.6-11.6 11.6-11.6-11.6z"/><path d="M463.2 1476.3l11.6 11.6-11.6 11.6-11.6-11.6z"/><path d="M704.8 1484.3l11.6 11.6-11.6 11.6-11.6-11.6z"/><path d="M727.2 1483.4l11.6 11.6-11.6 11.6-11.6-11.6z"/><path d="M793.6 1491.3l11.6 11.6-11.6 11.6-11.6-11.6z"/>
<path d="M564.5 1490.3l11.6 11.6-11.6 11.6-11.6-11.6z"/><path d="M558.0 1509.0l11.6 11.6-11.6 11.6-11.6-11.6z"/><path d="M682.4 1549.2l11.6 11.6-11.6 11.6-11.6-11.6z"/><path d="M649.6 1573.6l11.6 11.6-11.6 11.6-11.6-11.6z"/><path d="M665.5 1577.9l11.6 11.6-11.6 11.6-11.6-11.6z"/><path d="M859.3 1493.1l11.6 11.6-11.6 11.6-11.6-11.6z"/>
</g>
<path fill-rule="evenodd" d="M341.9 837.8L349.0 844.9L360.6 837.5L380.0 836.1L381.3 820.4L382.9 817.2L393.2 810.2L395.4 809.3L398.9 809.7L406.2 813.8L415.8 803.0L418.5 801.6L414.1 794.9L414.0 792.1L415.3 789.6L422.8 782.2L433.8 777.3L442.1 770.1L437.3 759.5L439.7 748.5L428.5 736.8L424.9 729.0L425.1 726.2L426.4 723.9L412.8 712.2L411.0 709.3L410.9 706.4L412.2 703.8L421.8 696.1L424.5 695.4L426.7 695.8L435.2 701.0L437.1 698.5L439.1 697.4L441.9 697.2L444.1 698.0L445.8 699.5L458.0 716.0L458.6 718.3L458.2 720.7L452.9 731.4L463.2 758.0L459.0 781.4L463.2 788.4L471.6 780.3L486.1 778.3L494.0 771.8L494.0 696.8L494.7 693.9L496.8 691.7L500.2 690.8L504.0 692.3L510.9 703.3L506.8 695.6L506.5 693.3L507.0 691.1L519.3 676.8L521.7 675.4L524.6 675.3L526.7 676.2L534.9 682.7L536.7 685.1L537.2 687.4L536.7 689.7L532.7 696.0L535.6 698.9L542.1 691.5L554.8 674.1L557.2 672.4L559.6 672.1L561.9 672.7L572.2 678.0L576.4 683.4L577.1 685.7L576.9 688.0L575.8 690.2L566.2 699.9L572.0 705.9L573.0 709.2L571.7 712.9L564.9 718.9L567.1 721.1L588.8 700.8L591.5 696.2L586.2 682.9L586.1 680.0L587.6 677.0L594.7 670.9L593.3 668.0L591.4 656.0L585.5 655.8L570.5 649.8L568.3 647.8L567.3 644.4L567.8 642.0L569.1 640.1L585.0 627.8L581.7 623.3L581.4 619.8L582.4 617.6L588.9 609.9L581.5 599.1L581.7 595.5L585.1 590.8L561.3 571.4L559.9 569.4L559.5 567.1L560.5 563.7L565.2 558.4L584.0 551.9L591.3 544.7L582.3 535.6L581.4 533.4L581.5 530.6L583.0 528.1L593.8 518.7L600.5 509.8L597.3 503.2L597.0 499.8L606.9 484.3L595.3 477.0L593.9 474.3L594.2 470.8L595.5 468.7L609.0 455.3L621.1 448.3L636.5 433.1L649.4 426.7L659.1 426.5L665.6 418.0L675.8 411.8L680.7 393.5L682.1 391.0L684.0 389.7L711.3 376.9L719.8 369.8L719.8 363.5L709.2 358.7L683.2 372.6L681.0 373.0L678.7 372.6L660.0 365.1L657.6 363.4L656.5 361.4L656.3 358.5L660.4 349.8L647.6 338.4L635.9 332.5L620.6 339.2L617.7 339.2L615.2 337.9L608.6 325.6L591.6 306.5L587.0 293.8L580.7 297.6L578.4 298.2L575.6 297.7L564.8 291.5L551.6 298.0L548.2 297.9L545.3 295.9L536.8 302.5L539.9 346.1L544.7 346.2L547.3 347.4L549.2 350.2L549.3 353.7L548.3 355.7L546.5 357.3L533.5 364.7L521.0 371.0L517.7 391.0L508.1 417.7L506.5 420.1L504.4 421.3L502.1 421.6L499.8 421.0L497.9 419.6L487.4 400.7L485.6 385.4L470.7 375.5L461.1 364.6L455.0 370.7L443.0 392.9L443.0 415.7L442.3 418.5L440.8 420.3L423.5 434.2L416.5 455.0L414.9 457.5L412.9 458.7L410.0 459.0L381.1 451.8L365.2 456.6L351.4 468.6L336.2 484.6L333.5 485.9L328.5 486.0L327.0 505.4L319.7 529.3L321.5 554.8L319.6 577.3L321.5 599.7L319.5 623.3L318.1 626.1L307.4 638.4L311.1 648.4L311.3 650.7L310.6 652.9L307.6 655.6L303.5 656.0L292.9 675.9L291.0 680.5L295.8 687.7L296.5 691.0L289.1 717.9L293.3 727.0L293.1 729.9L290.9 733.3L304.2 744.7L307.0 742.0L298.0 732.8L297.1 730.7L297.1 728.3L298.7 725.2L311.7 712.3L309.5 705.3L309.6 703.1L310.6 701.0L319.8 694.8L313.4 684.3L312.6 682.0L312.8 679.5L316.4 667.5L317.9 665.7L328.7 656.9L351.4 647.5L354.8 647.5L357.3 648.9L367.4 665.7L368.2 668.0L367.5 671.5L360.6 682.0L370.0 691.4L371.2 694.1L371.0 697.1L363.9 712.8L368.2 728.5L366.9 731.7L357.1 741.5L344.5 750.0L349.8 754.0L359.9 759.3L372.8 770.6L374.0 772.5L374.4 775.4L372.7 778.9L354.0 797.6L352.0 799.0L349.6 799.4L346.8 798.6L337.6 790.7L334.6 793.7L342.2 802.4L343.2 805.0L342.7 808.4L335.2 821.1L342.9 831.8L343.1 835.2ZM465.2 682.3L459.9 689.9L457.7 690.9L454.8 690.8L452.7 689.7L436.7 673.6L435.7 669.7L437.1 666.5L439.4 664.7L442.3 664.3L458.5 667.5L461.1 668.8L462.9 671.2L465.8 679.6Z"/>
<path fill-rule="evenodd" d="M262.5 1582.8L264.6 1584.5L272.4 1576.8L276.3 1575.4L279.2 1576.2L288.6 1582.9L306.1 1565.5L318.4 1559.2L321.2 1558.6L324.9 1560.0L332.8 1567.8L334.1 1569.8L334.6 1572.1L333.2 1575.9L319.1 1590.0L320.3 1590.8L332.3 1587.6L353.1 1591.3L370.1 1589.6L378.2 1586.4L385.9 1581.4L382.6 1575.4L382.6 1572.5L383.5 1570.4L385.2 1568.9L393.2 1564.8L388.7 1559.9L388.1 1555.9L390.2 1552.5L397.3 1547.7L395.3 1546.3L393.9 1543.8L393.7 1541.5L394.6 1538.8L406.1 1527.2L404.0 1524.9L403.1 1522.7L403.1 1520.4L404.3 1517.8L414.5 1507.6L417.2 1506.3L419.6 1506.4L421.8 1507.3L433.0 1517.1L441.8 1508.8L444.7 1508.1L450.2 1509.3L452.9 1506.6L448.3 1501.4L447.9 1498.5L448.9 1495.8L452.1 1493.4L460.3 1491.7L468.1 1483.9L473.6 1477.1L468.0 1452.7L468.1 1450.3L469.2 1448.2L472.2 1446.2L490.5 1442.5L507.3 1429.1L517.5 1412.1L520.1 1402.6L526.4 1394.6L528.5 1393.7L530.8 1393.5L543.5 1396.7L550.1 1391.4L561.0 1379.1L558.3 1376.1L557.6 1372.6L561.6 1360.2L563.3 1357.7L565.9 1356.2L568.3 1356.1L582.0 1361.1L583.4 1360.4L580.3 1356.4L580.5 1352.3L589.2 1341.0L592.3 1339.4L594.7 1339.4L596.9 1340.3L605.9 1347.7L617.6 1343.4L620.0 1343.0L622.4 1343.6L631.0 1347.9L643.0 1342.5L638.5 1334.6L638.0 1331.6L639.4 1328.3L645.3 1323.4L641.2 1317.3L626.9 1302.9L615.1 1293.0L605.4 1281.3L604.4 1278.5L605.4 1274.5L614.1 1264.3L606.9 1252.5L606.2 1250.3L606.5 1248.0L607.6 1246.0L615.2 1238.4L623.0 1228.0L615.1 1220.0L613.7 1216.3L614.6 1213.1L624.2 1200.1L622.9 1196.0L589.2 1196.0L572.1 1219.8L568.7 1222.0L565.8 1222.0L563.7 1220.9L553.6 1209.6L547.2 1214.9L534.6 1229.4L521.3 1246.4L506.0 1263.4L506.0 1295.1L504.2 1298.8L502.2 1300.1L499.3 1300.5L490.6 1297.7L483.3 1303.5L480.4 1304.5L469.5 1302.0L466.5 1312.9L455.7 1322.4L458.0 1328.0L457.6 1330.4L456.4 1332.5L453.9 1334.1L438.2 1337.6L435.0 1340.8L439.2 1349.8L439.0 1352.6L437.5 1355.1L426.7 1365.5L403.0 1374.7L385.4 1392.3L347.7 1437.4L335.0 1443.3L330.2 1454.5L323.0 1468.9L319.8 1481.8L321.0 1487.8L320.1 1491.1L317.1 1493.6L306.8 1495.4L302.4 1498.9L308.0 1510.1L308.4 1512.5L307.7 1514.9L301.2 1527.9L302.7 1534.3L302.0 1537.6L290.2 1547.5L286.8 1548.1L279.2 1546.6L266.9 1554.3L273.7 1561.2L274.6 1563.3L274.6 1565.6L273.5 1568.2Z"/>
<path fill="#fff" d="M555.6 309.1L561.2 305.3L568.7 312.8L563.1 318.4Z"/>
<path fill="#fff" d="M606.1 339.0L619.2 327.8L622.0 330.6L608.9 341.8Z"/>
<path fill="#fff" d="M632.3 352.1L639.8 346.5L654.7 353.9L647.3 359.6L639.8 353.9Z"/>
<path fill="#fff" d="M647.3 327.8L651.9 325.0L659.4 335.2L654.7 338.0Z"/>
<path fill="#fff" d="M332.3 628.7L337.9 623.1L341.6 625.9L335.1 631.5Z"/>
<path fill="#fff" d="M532.4 624.0L538.0 622.1L543.6 629.6L536.2 629.6Z"/>
<path fill="#fff" d="M395.7 714.7L398.8 713.1L403.5 718.6L400.4 720.1Z"/>
<path fill="#fff" d="M391.1 740.4L397.3 734.9L402.7 740.4L397.3 745.9Z"/>
<path fill="#fff" d="M367.7 756.0L372.4 751.3L377.0 756.0L372.4 760.7Z"/>
<path fill="#fff" d="M391.1 753.6L395.7 749.0L402.0 759.1L399.6 761.4Z"/>
<path fill="#fff" d="M423.0 766.1L426.9 762.2L430.8 766.1L426.9 770.0Z"/>
<path fill="#fff" d="M476.8 759.9L482.2 754.4L484.6 756.8L479.1 762.2Z"/>
<path fill="#fff" d="M371.6 799.6L377.8 794.2L380.9 797.3L374.7 807.4L372.4 804.3Z"/>
<path fill="#fff" d="M345.1 798.1L349.8 793.4L354.4 801.2L351.3 804.3Z"/>
<path fill="#fff" d="M345.9 815.2L349.0 812.9L353.6 821.4L351.3 823.0Z"/>
<path fill="#fff" d="M413.7 782.5L418.3 782.5L429.2 787.2L426.1 795.0L418.3 790.3Z"/>
<path fill="#fff" d="M521.8 656.2L528.1 650.0L535.1 656.2L528.1 662.5Z"/>
<path fill="#fff" d="M518.7 674.9L523.4 670.3L528.1 674.2L523.4 678.8Z"/>
<path fill="#fff" d="M562.3 662.5L570.1 659.4L572.5 662.5L567.0 667.1Z"/>
<path fill="#fff" d="M577.2 522.9L582.6 516.6L584.9 519.0L579.5 525.2Z"/>
<path fill="#fff" d="M564.7 612.5L567.8 610.1L572.5 615.6L569.4 617.9Z"/>
<path fill="#fff" d="M532.7 624.2L536.6 620.3L551.4 629.6L548.3 632.7L542.1 626.5L537.4 630.4Z"/>
<path fill="#fff" d="M521.8 655.3L528.1 649.1L534.3 655.3L528.1 661.6Z"/>
<path fill="#fff" d="M527.3 644.4L532.0 639.8L533.5 641.3L528.8 646.0Z"/>
<path fill="#fff" d="M563.1 662.4L570.1 659.2L572.5 662.4L567.0 667.8Z"/>
<path fill="#fff" d="M540.5 597.7L546.8 603.9L553.0 599.2L553.8 600.8L546.8 606.3L539.7 599.2Z"/>
<path fill="#fff" d="M562.3 599.2L571.7 590.7L573.3 592.2L563.9 600.8Z"/>
<path fill="#fff" d="M570.9 642.9L587.3 628.9L593.5 633.5L574.8 646.8Z"/>
<path fill="#fff" d="M446.4 1327.5L451.1 1322.8L454.8 1327.5L450.1 1332.1Z"/>
<path fill="#fff" d="M485.7 1287.3L491.3 1282.6L502.5 1296.6L498.8 1300.3Z"/>
<path fill="#fff" d="M444.5 1464.9L450.1 1458.4L453.9 1463.1L448.3 1468.7Z"/>
<path fill="#fff" d="M632.8 1306.9L637.5 1302.2L641.2 1306.0L636.5 1311.6Z"/>
<path fill="#fff" d="M650.6 1313.4L655.2 1308.8L659.9 1313.4L655.2 1318.1Z"/>
<path fill="#fff" d="M571.1 1338.7L574.8 1335.0L582.3 1343.4L578.6 1347.1Z"/>
<path fill="#fff" d="M643.1 1331.2L651.5 1323.7L659.0 1330.3L649.6 1337.8Z"/>
<path fill="#fff" d="M335.1 1542.1L350.1 1527.2L362.2 1540.3L367.8 1549.6L360.3 1551.5L351.9 1560.8L343.5 1559.0L334.2 1549.6Z"/>
<path fill="#fff" d="M339.8 1564.6L351.0 1564.6L354.7 1572.1L349.1 1575.8Z"/>
<path fill="#fff" d="M306.1 1568.3L311.7 1562.7L324.8 1568.3L315.5 1575.8Z"/>
<path fill="#fff" d="M444.5 1464.5L449.2 1459.9L453.9 1464.5L449.2 1469.2Z"/>
<path fill="#fff" d="M444.5 1486.0L448.3 1484.2L452.0 1493.5L448.3 1495.4Z"/>
<g stroke="#8fadd0" stroke-width="0.9"><path d="M348.6 1533.9l11.6 11.6-11.6 11.6-11.6-11.6z"/></g>
</g>
<g id="ticklabels">
<text transform="translate(257.1 155.6) scale(1.0 1.028)" font-size="36.4" text-anchor="middle" font-weight="normal" stroke="#000" stroke-width="0.45">17.6</text>
<text transform="translate(257.1 1654.9) scale(1.0 1.028)" font-size="36.4" text-anchor="middle" font-weight="normal" stroke="#000" stroke-width="0.45">17.6</text>
<text transform="translate(501.7 155.6) scale(1.0 1.028)" font-size="36.4" text-anchor="middle" font-weight="normal" stroke="#000" stroke-width="0.45">18.6</text>
<text transform="translate(501.7 1654.9) scale(1.0 1.028)" font-size="36.4" text-anchor="middle" font-weight="normal" stroke="#000" stroke-width="0.45">18.6</text>
<text transform="translate(746.2 155.6) scale(1.0 1.028)" font-size="36.4" text-anchor="middle" font-weight="normal" stroke="#000" stroke-width="0.45">19.6</text>
<text transform="translate(746.2 1654.9) scale(1.0 1.028)" font-size="36.4" text-anchor="middle" font-weight="normal" stroke="#000" stroke-width="0.45">19.6</text>
<text transform="translate(990.1 119.4) scale(1.0 1.028)" font-size="36.4" text-anchor="middle" font-weight="normal" stroke="#000" stroke-width="0.45">20.6</text>
<text transform="translate(990.1 1694.1) scale(1.0 1.028)" font-size="36.4" text-anchor="middle" font-weight="normal" stroke="#000" stroke-width="0.45">20.6</text>
<text transform="translate(1002.4 155.8) scale(1.0 1.028)" font-size="36.4" text-anchor="end" font-weight="normal" stroke="#000" stroke-width="0.45">–6</text>
<text transform="translate(1002.4 1654.9) scale(1.0 1.028)" font-size="36.4" text-anchor="end" font-weight="normal" stroke="#000" stroke-width="0.45">–6</text>
<text transform="translate(1091.4 155.8) scale(1.0 1.028)" font-size="36.4" text-anchor="end" font-weight="normal" stroke="#000" stroke-width="0.45">–4</text>
<text transform="translate(1091.4 1654.9) scale(1.0 1.028)" font-size="36.4" text-anchor="end" font-weight="normal" stroke="#000" stroke-width="0.45">–4</text>
<text transform="translate(1180.5 155.8) scale(1.0 1.028)" font-size="36.4" text-anchor="end" font-weight="normal" stroke="#000" stroke-width="0.45">–2</text>
<text transform="translate(1180.5 1654.9) scale(1.0 1.028)" font-size="36.4" text-anchor="end" font-weight="normal" stroke="#000" stroke-width="0.45">–2</text>
<text transform="translate(1258.1 155.8) scale(1.0 1.028)" font-size="36.4" text-anchor="middle" font-weight="normal" stroke="#000" stroke-width="0.45">0</text>
<text transform="translate(1258.1 1654.9) scale(1.0 1.028)" font-size="36.4" text-anchor="middle" font-weight="normal" stroke="#000" stroke-width="0.45">0</text>
<text transform="translate(1347.1 155.8) scale(1.0 1.028)" font-size="36.4" text-anchor="middle" font-weight="normal" stroke="#000" stroke-width="0.45">2</text>
<text transform="translate(1347.1 1654.9) scale(1.0 1.028)" font-size="36.4" text-anchor="middle" font-weight="normal" stroke="#000" stroke-width="0.45">2</text>
<text transform="translate(224.4 884.2) scale(1.0 1.028)" font-size="36.4" text-anchor="end" font-weight="normal" stroke="#000" stroke-width="0.45">15.50</text>
<text transform="translate(1377.7 884.2) scale(1.0 1.028)" font-size="36.4" text-anchor="start" font-weight="normal" stroke="#000" stroke-width="0.45">15.50</text>
<text transform="translate(227.6 1608.5) scale(1.0 1.028)" font-size="36.4" text-anchor="end" font-weight="normal" stroke="#000" stroke-width="0.45">37.6</text>
<text transform="translate(1377.4 1608.5) scale(1.0 1.028)" font-size="36.4" text-anchor="start" font-weight="normal" stroke="#000" stroke-width="0.45">37.6</text>
<text transform="translate(224.4 786.8) scale(1.0 1.028)" font-size="36.4" text-anchor="end" font-weight="normal" stroke="#000" stroke-width="0.45">15.55</text>
<text transform="translate(1377.7 786.8) scale(1.0 1.028)" font-size="36.4" text-anchor="start" font-weight="normal" stroke="#000" stroke-width="0.45">15.55</text>
<text transform="translate(227.6 1491.0) scale(1.0 1.028)" font-size="36.4" text-anchor="end" font-weight="normal" stroke="#000" stroke-width="0.45">38.1</text>
<text transform="translate(1377.4 1491.0) scale(1.0 1.028)" font-size="36.4" text-anchor="start" font-weight="normal" stroke="#000" stroke-width="0.45">38.1</text>
<text transform="translate(224.4 669.3) scale(1.0 1.028)" font-size="36.4" text-anchor="end" font-weight="normal" stroke="#000" stroke-width="0.45">15.60</text>
<text transform="translate(1377.7 669.3) scale(1.0 1.028)" font-size="36.4" text-anchor="start" font-weight="normal" stroke="#000" stroke-width="0.45">15.60</text>
<text transform="translate(227.6 1373.5) scale(1.0 1.028)" font-size="36.4" text-anchor="end" font-weight="normal" stroke="#000" stroke-width="0.45">38.6</text>
<text transform="translate(1377.4 1373.5) scale(1.0 1.028)" font-size="36.4" text-anchor="start" font-weight="normal" stroke="#000" stroke-width="0.45">38.6</text>
<text transform="translate(224.4 551.8) scale(1.0 1.028)" font-size="36.4" text-anchor="end" font-weight="normal" stroke="#000" stroke-width="0.45">15.65</text>
<text transform="translate(1377.7 551.8) scale(1.0 1.028)" font-size="36.4" text-anchor="start" font-weight="normal" stroke="#000" stroke-width="0.45">15.65</text>
<text transform="translate(227.6 1256.0) scale(1.0 1.028)" font-size="36.4" text-anchor="end" font-weight="normal" stroke="#000" stroke-width="0.45">39.1</text>
<text transform="translate(1377.4 1256.0) scale(1.0 1.028)" font-size="36.4" text-anchor="start" font-weight="normal" stroke="#000" stroke-width="0.45">39.1</text>
<text transform="translate(224.4 434.3) scale(1.0 1.028)" font-size="36.4" text-anchor="end" font-weight="normal" stroke="#000" stroke-width="0.45">15.70</text>
<text transform="translate(1377.7 434.3) scale(1.0 1.028)" font-size="36.4" text-anchor="start" font-weight="normal" stroke="#000" stroke-width="0.45">15.70</text>
<text transform="translate(227.6 1138.6) scale(1.0 1.028)" font-size="36.4" text-anchor="end" font-weight="normal" stroke="#000" stroke-width="0.45">39.6</text>
<text transform="translate(1377.4 1138.6) scale(1.0 1.028)" font-size="36.4" text-anchor="start" font-weight="normal" stroke="#000" stroke-width="0.45">39.6</text>
<text transform="translate(224.4 316.8) scale(1.0 1.028)" font-size="36.4" text-anchor="end" font-weight="normal" stroke="#000" stroke-width="0.45">15.75</text>
<text transform="translate(1377.7 316.8) scale(1.0 1.028)" font-size="36.4" text-anchor="start" font-weight="normal" stroke="#000" stroke-width="0.45">15.75</text>
<text transform="translate(227.6 1021.1) scale(1.0 1.028)" font-size="36.4" text-anchor="end" font-weight="normal" stroke="#000" stroke-width="0.45">40.1</text>
<text transform="translate(1377.4 1021.1) scale(1.0 1.028)" font-size="36.4" text-anchor="start" font-weight="normal" stroke="#000" stroke-width="0.45">40.1</text>
<text transform="translate(224.4 199.3) scale(1.0 1.028)" font-size="36.4" text-anchor="end" font-weight="normal" stroke="#000" stroke-width="0.45">15.80</text>
<text transform="translate(1377.7 199.3) scale(1.0 1.028)" font-size="36.4" text-anchor="start" font-weight="normal" stroke="#000" stroke-width="0.45">15.80</text>
<text transform="translate(227.6 928.4) scale(1.0 1.028)" font-size="36.4" text-anchor="end" font-weight="normal" stroke="#000" stroke-width="0.45">40.6</text>
<text transform="translate(1377.4 928.4) scale(1.0 1.028)" font-size="36.4" text-anchor="start" font-weight="normal" stroke="#000" stroke-width="0.45">40.6</text>
</g>
<g id="titles">
<text transform="translate(634.7 85.8) scale(1.035 1)" font-size="39" text-anchor="middle" font-weight="bold" stroke="#000" stroke-width="0.3"><tspan font-size="25.5" dy="-12.6">206</tspan><tspan dy="12.6">Pb/</tspan><tspan font-size="25.5" dy="-12.6">204</tspan><tspan dy="12.6">Pb</tspan></text>
<text transform="translate(607.9 1744.8) scale(1.035 1)" font-size="39" text-anchor="middle" font-weight="bold" stroke="#000" stroke-width="0.3"><tspan font-size="25.5" dy="-12.6">206</tspan><tspan dy="12.6">Pb/</tspan><tspan font-size="25.5" dy="-12.6">204</tspan><tspan dy="12.6">Pb</tspan></text>
<text transform="translate(1180.0 85.8) scale(1.0 1)" font-size="39" text-anchor="middle" font-weight="bold" stroke="#000" stroke-width="0.3">δ<tspan font-size="25.5" dy="-12.6">65</tspan><tspan dy="12.6">Cu ‰</tspan></text>
<text transform="translate(1173.0 1744.8) scale(1.0 1)" font-size="39" text-anchor="middle" font-weight="bold" stroke="#000" stroke-width="0.3">δ<tspan font-size="25.5" dy="-12.6">65</tspan><tspan dy="12.6">Cu ‰</tspan></text>
<text transform="translate(97.7 541.6) rotate(-90) scale(1.0 1)" font-size="40.4" text-anchor="middle" font-weight="bold" stroke="#000" stroke-width="0.3"><tspan font-size="26.6" dy="-11.8">207</tspan><tspan dy="11.8">Pb/</tspan><tspan font-size="26.6" dy="-11.8">204</tspan><tspan dy="11.8">Pb</tspan></text>
<text transform="translate(97.7 1246.7) rotate(-90) scale(1.0 1)" font-size="40.4" text-anchor="middle" font-weight="bold" stroke="#000" stroke-width="0.3"><tspan font-size="26.6" dy="-11.8">208</tspan><tspan dy="11.8">Pb/</tspan><tspan font-size="26.6" dy="-11.8">204</tspan><tspan dy="11.8">Pb</tspan></text>
<text transform="translate(1505.5 483.7) rotate(90) scale(1.0 1)" font-size="40.4" text-anchor="middle" font-weight="bold" stroke="#000" stroke-width="0.3"><tspan font-size="26.6" dy="-11.8">207</tspan><tspan dy="11.8">Pb/</tspan><tspan font-size="26.6" dy="-11.8">204</tspan><tspan dy="11.8">Pb</tspan></text>
<text transform="translate(1505.5 1247.3) rotate(90) scale(1.0 1)" font-size="40.4" text-anchor="middle" font-weight="bold" stroke="#000" stroke-width="0.3"><tspan font-size="26.6" dy="-11.8">208</tspan><tspan dy="11.8">Pb/</tspan><tspan font-size="26.6" dy="-11.8">204</tspan><tspan dy="11.8">Pb</tspan></text>
</g>
<g id="panels">
<text x="316.0" y="254.8" font-size="50" text-anchor="middle" font-weight="normal" stroke="#000" stroke-width="0.4">(a)</text>
<text x="316.0" y="956.6" font-size="50" text-anchor="middle" font-weight="normal" stroke="#000" stroke-width="0.4">(b)</text>
<text x="1046.6" y="254.8" font-size="50" text-anchor="middle" font-weight="normal" stroke="#000" stroke-width="0.4">(c)</text>
<text x="1046.6" y="956.6" font-size="50" text-anchor="middle" font-weight="normal" stroke="#000" stroke-width="0.4">(d)</text>
</g>
<g id="legend">
<rect x="694.3" y="754.1" width="267.2" height="110.6" fill="#fff" stroke="#000" stroke-width="1.9"/>
<path d="M734.2 772.3L745.8 783.9L734.2 795.5L722.6 783.9Z" fill="#a2b8d5" stroke="#8fadd0" stroke-width="0.9"/>
<circle cx="733.8" cy="831.2" r="15.1" fill="#fff" stroke="#000" stroke-width="1.9"/>
<text x="763.0" y="792.8" font-size="27.3" text-anchor="start" font-weight="normal" stroke="#000" stroke-width="0.25">European ores</text>
<text x="763.0" y="841.0" font-size="27.3" text-anchor="start" font-weight="normal" stroke="#000" stroke-width="0.25">Study objects</text>
</g>
<g id="study">
<ellipse cx="653.8" cy="406.3" rx="84.0" ry="37.5" fill="none" stroke="#000" stroke-width="3.1" stroke-dasharray="0.01 6.079" stroke-linecap="round" transform="rotate(-24 653.8 406.3)"/>
<ellipse cx="404.0" cy="547.7" rx="29.4" ry="29.4" fill="none" stroke="#000" stroke-width="3.1" stroke-dasharray="0.01 6.148" stroke-linecap="round" transform="rotate(0 404.0 547.7)"/>
<ellipse cx="478.3" cy="713.2" rx="34.3" ry="30.5" fill="none" stroke="#000" stroke-width="3.1" stroke-dasharray="0.01 6.164" stroke-linecap="round" transform="rotate(0 478.3 713.2)"/>
<circle cx="611.8" cy="427.2" r="15.2" fill="#92c350" stroke="#000" stroke-width="1.8"/>
<circle cx="653.7" cy="403.6" r="15.2" fill="#92c350" stroke="#000" stroke-width="1.8"/>
<circle cx="702.1" cy="391.8" r="15.2" fill="#92c350" stroke="#000" stroke-width="1.8"/>
<circle cx="404.7" cy="542.0" r="15.2" fill="#fff025" stroke="#000" stroke-width="1.8"/>
<circle cx="401.8" cy="551.8" r="15.2" fill="#fff025" stroke="#000" stroke-width="1.8"/>
<circle cx="490.0" cy="719.5" r="15.2" fill="#ed1f24" stroke="#000" stroke-width="1.8"/>
<circle cx="477.6" cy="711.5" r="15.2" fill="#ed1f24" stroke="#000" stroke-width="1.8"/>
<text x="575.0" y="375.5" font-size="24" text-anchor="middle" font-weight="normal" stroke="#000" stroke-width="0.25">Group I</text>
<text x="377.9" y="609.7" font-size="24" text-anchor="middle" font-weight="normal" stroke="#000" stroke-width="0.25">Group II</text>
<text x="556.9" y="759.4" font-size="24" text-anchor="middle" font-weight="normal" stroke="#000" stroke-width="0.25">Group III</text>
<ellipse cx="1261.0" cy="409.2" rx="32.5" ry="48.4" fill="none" stroke="#000" stroke-width="3.1" stroke-dasharray="0.01 6.100" stroke-linecap="round" transform="rotate(0 1261.0 409.2)"/>
<ellipse cx="1269.8" cy="544.4" rx="29.2" ry="38.0" fill="none" stroke="#000" stroke-width="3.1" stroke-dasharray="0.01 6.048" stroke-linecap="round" transform="rotate(0 1269.8 544.4)"/>
<ellipse cx="1126.6" cy="713.3" rx="120.0" ry="39.8" fill="none" stroke="#000" stroke-width="3.1" stroke-dasharray="0.01 6.060" stroke-linecap="round" transform="rotate(-3.3 1126.6 713.3)"/>
<circle cx="1261.8" cy="426.7" r="15.2" fill="#92c350" stroke="#000" stroke-width="1.8"/>
<circle cx="1255.6" cy="403.5" r="15.2" fill="#92c350" stroke="#000" stroke-width="1.8"/>
<circle cx="1259.3" cy="391.8" r="15.2" fill="#92c350" stroke="#000" stroke-width="1.8"/>
<circle cx="1266.8" cy="541.4" r="15.2" fill="#fff025" stroke="#000" stroke-width="1.8"/>
<circle cx="1269.8" cy="551.4" r="15.2" fill="#fff025" stroke="#000" stroke-width="1.8"/>
<circle cx="1044.8" cy="717.7" r="15.2" fill="#ed1f24" stroke="#000" stroke-width="1.8"/>
<circle cx="1090.5" cy="711.0" r="15.2" fill="#ed1f24" stroke="#000" stroke-width="1.8"/>
<circle cx="1200.4" cy="711.0" r="15.2" fill="#ed1f24" stroke="#000" stroke-width="1.8"/>
<text x="1261.2" y="339.9" font-size="24" text-anchor="middle" font-weight="normal" stroke="#000" stroke-width="0.25">Group I</text>
<text x="1182.8" y="550.6" font-size="24" text-anchor="middle" font-weight="normal" stroke="#000" stroke-width="0.25">Group II</text>
<text x="1135.5" y="787.5" font-size="24" text-anchor="middle" font-weight="normal" stroke="#000" stroke-width="0.25">Group III</text>
<ellipse cx="650.3" cy="1164.4" rx="86.6" ry="69.6" fill="none" stroke="#000" stroke-width="3.1" stroke-dasharray="0.01 6.066" stroke-linecap="round" transform="rotate(-56 650.3 1164.4)"/>
<ellipse cx="407.2" cy="1411.5" rx="32.0" ry="32.0" fill="none" stroke="#000" stroke-width="3.1" stroke-dasharray="0.01 6.083" stroke-linecap="round" transform="rotate(0 407.2 1411.5)"/>
<ellipse cx="485.1" cy="1415.5" rx="32.3" ry="36.3" fill="none" stroke="#000" stroke-width="3.1" stroke-dasharray="0.01 6.153" stroke-linecap="round" transform="rotate(0 485.1 1415.5)"/>
<circle cx="654.1" cy="1114.3" r="15.2" fill="#92c350" stroke="#000" stroke-width="1.8"/>
<circle cx="702.0" cy="1164.2" r="15.2" fill="#92c350" stroke="#000" stroke-width="1.8"/>
<circle cx="612.7" cy="1212.1" r="15.2" fill="#92c350" stroke="#000" stroke-width="1.8"/>
<circle cx="406.4" cy="1420.9" r="15.2" fill="#fff025" stroke="#000" stroke-width="1.8"/>
<circle cx="402.2" cy="1410.2" r="15.2" fill="#fff025" stroke="#000" stroke-width="1.8"/>
<circle cx="489.5" cy="1411.7" r="15.2" fill="#ed1f24" stroke="#000" stroke-width="1.8"/>
<circle cx="480.7" cy="1419.7" r="15.2" fill="#ed1f24" stroke="#000" stroke-width="1.8"/>
<circle cx="477.0" cy="1425.4" r="15.2" fill="#ed1f24" stroke="#000" stroke-width="1.8"/>
<text x="762.7" y="1205.8" font-size="24" text-anchor="middle" font-weight="normal" stroke="#000" stroke-width="0.25">Group I</text>
<text x="378.8" y="1470.0" font-size="24" text-anchor="middle" font-weight="normal" stroke="#000" stroke-width="0.25">Group II</text>
<text x="502.9" y="1364.8" font-size="24" text-anchor="middle" font-weight="normal" stroke="#000" stroke-width="0.25">Group III</text>
<ellipse cx="1257.7" cy="1163.7" rx="34.5" ry="83.0" fill="none" stroke="#000" stroke-width="3.1" stroke-dasharray="0.01 6.102" stroke-linecap="round" transform="rotate(-3.5 1257.7 1163.7)"/>
<ellipse cx="1121.5" cy="1419.3" rx="110.8" ry="40.3" fill="none" stroke="#000" stroke-width="3.1" stroke-dasharray="0.01 6.099" stroke-linecap="round" transform="rotate(3.5 1121.5 1419.3)"/>
<ellipse cx="1268.9" cy="1415.1" rx="33.7" ry="33.7" fill="none" stroke="#000" stroke-width="3.1" stroke-dasharray="0.01 6.040" stroke-linecap="round" transform="rotate(0 1268.9 1415.1)"/>
<circle cx="1256.1" cy="1115.3" r="15.2" fill="#92c350" stroke="#000" stroke-width="1.8"/>
<circle cx="1259.3" cy="1164.7" r="15.2" fill="#92c350" stroke="#000" stroke-width="1.8"/>
<circle cx="1261.8" cy="1212.6" r="15.2" fill="#92c350" stroke="#000" stroke-width="1.8"/>
<circle cx="1045.3" cy="1412.2" r="15.2" fill="#ed1f24" stroke="#000" stroke-width="1.8"/>
<circle cx="1091.0" cy="1420.2" r="15.2" fill="#ed1f24" stroke="#000" stroke-width="1.8"/>
<circle cx="1200.7" cy="1424.7" r="15.2" fill="#ed1f24" stroke="#000" stroke-width="1.8"/>
<circle cx="1266.8" cy="1419.7" r="15.2" fill="#fff025" stroke="#000" stroke-width="1.8"/>
<circle cx="1269.3" cy="1410.2" r="15.2" fill="#fff025" stroke="#000" stroke-width="1.8"/>
<text x="1176.1" y="1096.1" font-size="24" text-anchor="middle" font-weight="normal" stroke="#000" stroke-width="0.25">Group I</text>
<text x="1269.9" y="1364.8" font-size="24" text-anchor="middle" font-weight="normal" stroke="#000" stroke-width="0.25">Group II</text>
<text x="1129.0" y="1494.0" font-size="24" text-anchor="middle" font-weight="normal" stroke="#000" stroke-width="0.25">Group III</text>
</g>
</svg>
</body>
</html>
